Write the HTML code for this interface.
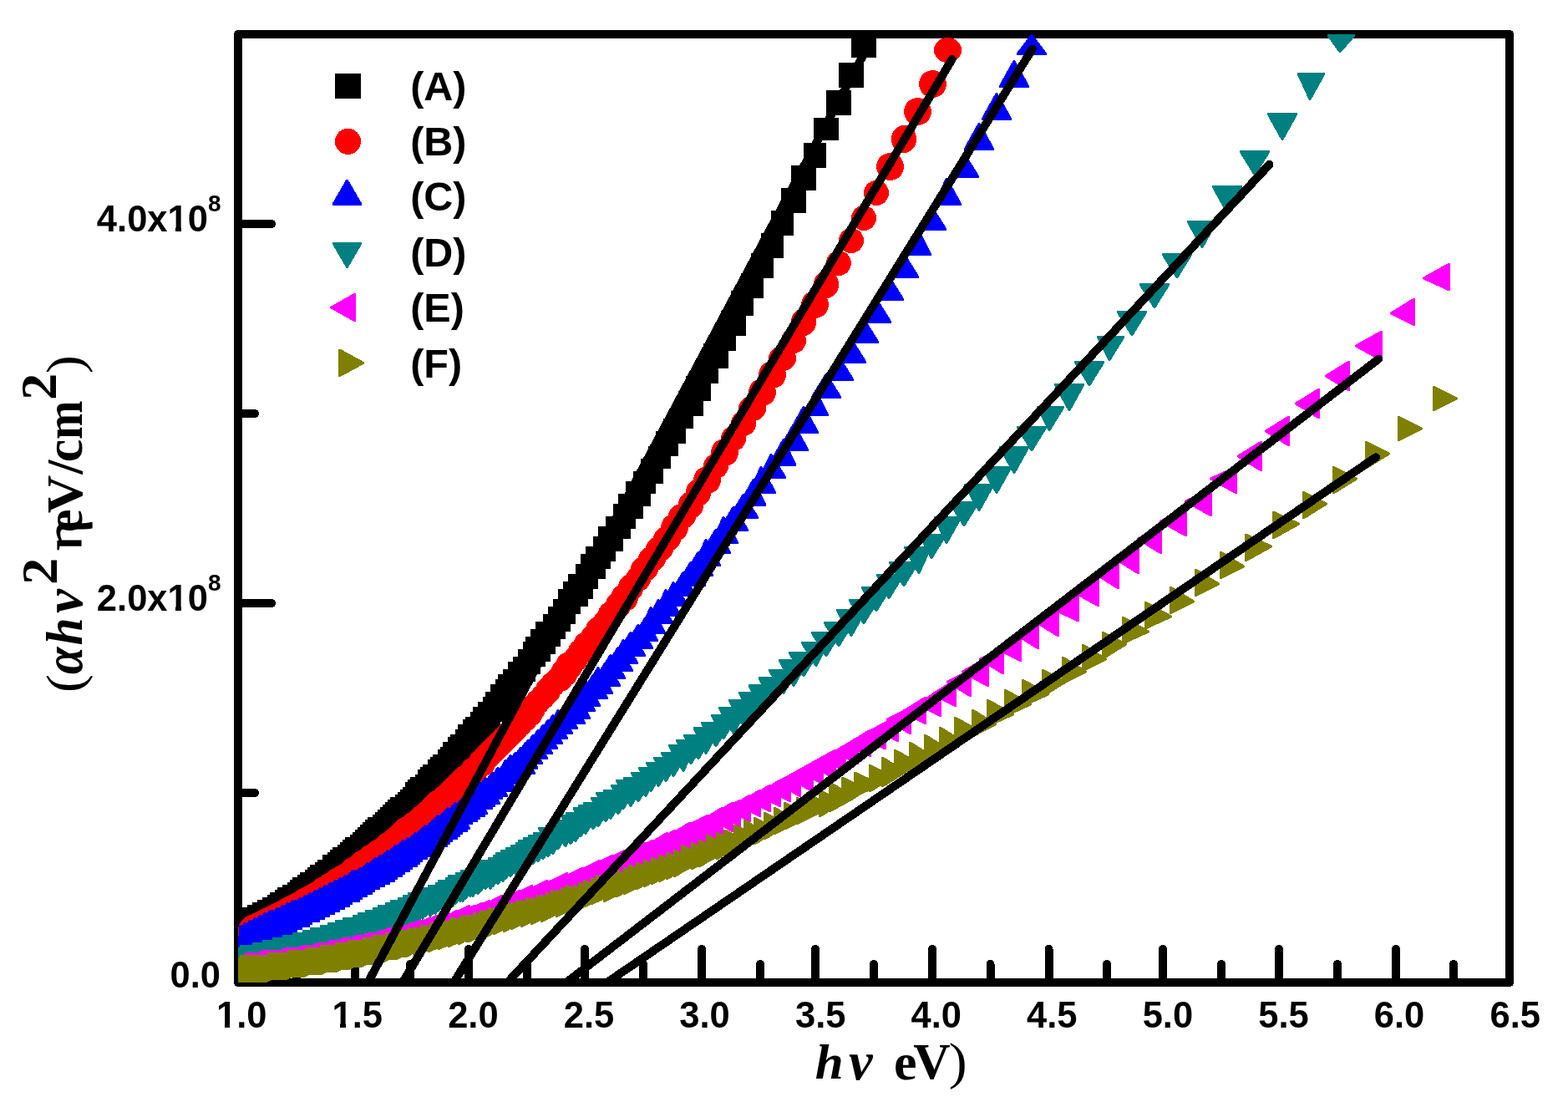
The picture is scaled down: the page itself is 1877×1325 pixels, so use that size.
<!DOCTYPE html>
<html lang="en"><head><meta charset="utf-8"><title>Tauc plot</title>
<style>html,body{margin:0;padding:0;background:#fff}body{width:1877px;height:1325px;overflow:hidden}svg{display:block}.t{font-family:"Liberation Sans",Arial,sans-serif;font-weight:bold;fill:#000}.s{font-family:"Liberation Serif","Times New Roman",serif;fill:#000}</style></head><body>
<svg width="1877" height="1325" viewBox="0 0 1877 1325">
<defs>
<clipPath id="cp"><rect x="285" y="41" width="1522" height="1135"/></clipPath>
</defs>
<rect x="0" y="0" width="1877" height="1325" fill="#fff"/>
<g id="axes" shape-rendering="crispEdges" stroke="#000" stroke-width="10" fill="none">
<rect x="285" y="41" width="1522" height="1135" stroke-linejoin="round"/>
</g>
<g id="ticks" stroke="#000" stroke-width="10" stroke-linecap="round" fill="none" shape-rendering="crispEdges">
<line x1="355" y1="1176" x2="355" y2="1154"/>
<line x1="425" y1="1176" x2="425" y2="1136"/>
<line x1="491" y1="1176" x2="491" y2="1154"/>
<line x1="561" y1="1176" x2="561" y2="1136"/>
<line x1="631" y1="1176" x2="631" y2="1154"/>
<line x1="700" y1="1176" x2="700" y2="1136"/>
<line x1="770" y1="1176" x2="770" y2="1154"/>
<line x1="840" y1="1176" x2="840" y2="1136"/>
<line x1="910" y1="1176" x2="910" y2="1154"/>
<line x1="976" y1="1176" x2="976" y2="1136"/>
<line x1="1046" y1="1176" x2="1046" y2="1154"/>
<line x1="1116" y1="1176" x2="1116" y2="1136"/>
<line x1="1185.5" y1="1176" x2="1185.5" y2="1154"/>
<line x1="1255.5" y1="1176" x2="1255.5" y2="1136"/>
<line x1="1325" y1="1176" x2="1325" y2="1154"/>
<line x1="1392" y1="1176" x2="1392" y2="1136"/>
<line x1="1462" y1="1176" x2="1462" y2="1154"/>
<line x1="1531" y1="1176" x2="1531" y2="1136"/>
<line x1="1601" y1="1176" x2="1601" y2="1154"/>
<line x1="1671" y1="1176" x2="1671" y2="1136"/>
<line x1="1740" y1="1176" x2="1740" y2="1154"/>
<line x1="285" y1="949.0" x2="305" y2="949.0"/>
<line x1="285" y1="722.0" x2="325" y2="722.0"/>
<line x1="285" y1="495.0" x2="305" y2="495.0"/>
<line x1="285" y1="268.0" x2="325" y2="268.0"/>
</g>
<g id="data" clip-path="url(#cp)" shape-rendering="crispEdges">
<g id="seriesA" fill="#000000">
<rect x="285" y="1095" width="14" height="30"/>
<rect x="285" y="1095" width="17" height="27"/>
<rect x="285" y="1092" width="17" height="30"/>
<rect x="285" y="1092" width="20" height="30"/>
<rect x="285" y="1092" width="20" height="30"/>
<rect x="285" y="1092" width="20" height="30"/>
<rect x="285" y="1092" width="23" height="30"/>
<rect x="285" y="1092" width="23" height="30"/>
<rect x="285" y="1092" width="26" height="27"/>
<rect x="285" y="1089" width="26" height="30"/>
<rect x="285" y="1089" width="26" height="30"/>
<rect x="285" y="1089" width="29" height="30"/>
<rect x="287" y="1089" width="27" height="30"/>
<rect x="287" y="1089" width="30" height="30"/>
<rect x="287" y="1089" width="30" height="27"/>
<rect x="290" y="1086" width="27" height="30"/>
<rect x="290" y="1086" width="30" height="30"/>
<rect x="293" y="1086" width="27" height="30"/>
<rect x="293" y="1086" width="30" height="30"/>
<rect x="296" y="1086" width="27" height="27"/>
<rect x="296" y="1083" width="30" height="30"/>
<rect x="296" y="1083" width="30" height="30"/>
<rect x="299" y="1083" width="27" height="30"/>
<rect x="299" y="1083" width="30" height="30"/>
<rect x="302" y="1080" width="27" height="30"/>
<rect x="302" y="1080" width="30" height="30"/>
<rect x="305" y="1080" width="27" height="30"/>
<rect x="305" y="1080" width="30" height="30"/>
<rect x="308" y="1080" width="27" height="27"/>
<rect x="308" y="1077" width="30" height="30"/>
<rect x="311" y="1077" width="27" height="30"/>
<rect x="311" y="1077" width="30" height="30"/>
<rect x="314" y="1074" width="27" height="30"/>
<rect x="314" y="1074" width="30" height="30"/>
<rect x="317" y="1074" width="27" height="30"/>
<rect x="317" y="1074" width="30" height="27"/>
<rect x="320" y="1071" width="27" height="30"/>
<rect x="320" y="1071" width="30" height="30"/>
<rect x="323" y="1071" width="27" height="30"/>
<rect x="323" y="1068" width="30" height="30"/>
<rect x="326" y="1068" width="27" height="30"/>
<rect x="326" y="1068" width="30" height="30"/>
<rect x="329" y="1065" width="27" height="30"/>
<rect x="329" y="1065" width="30" height="30"/>
<rect x="332" y="1065" width="27" height="30"/>
<rect x="332" y="1062" width="30" height="30"/>
<rect x="335" y="1062" width="27" height="30"/>
<rect x="335" y="1062" width="30" height="30"/>
<rect x="338" y="1059" width="30" height="30"/>
<rect x="341" y="1059" width="27" height="30"/>
<rect x="341" y="1059" width="30" height="27"/>
<rect x="344" y="1056" width="27" height="30"/>
<rect x="344" y="1056" width="30" height="30"/>
<rect x="347" y="1053" width="30" height="30"/>
<rect x="350" y="1053" width="27" height="30"/>
<rect x="350" y="1050" width="30" height="30"/>
<rect x="353" y="1050" width="27" height="30"/>
<rect x="353" y="1050" width="30" height="27"/>
<rect x="356" y="1047" width="30" height="30"/>
<rect x="359" y="1047" width="27" height="30"/>
<rect x="359" y="1044" width="30" height="30"/>
<rect x="362" y="1044" width="30" height="30"/>
<rect x="365" y="1041" width="27" height="30"/>
<rect x="365" y="1041" width="30" height="30"/>
<rect x="368" y="1038" width="30" height="30"/>
<rect x="371" y="1038" width="27" height="30"/>
<rect x="371" y="1035" width="30" height="30"/>
<rect x="374" y="1035" width="30" height="30"/>
<rect x="377" y="1032" width="27" height="30"/>
<rect x="377" y="1032" width="30" height="30"/>
<rect x="380" y="1029" width="30" height="30"/>
<rect x="383" y="1029" width="27" height="27"/>
<rect x="386" y="1026" width="27" height="30"/>
<rect x="386" y="1023" width="30" height="30"/>
<rect x="389" y="1023" width="30" height="30"/>
<rect x="392" y="1020" width="27" height="30"/>
<rect x="395" y="1020" width="27" height="30"/>
<rect x="395" y="1017" width="30" height="30"/>
<rect x="398" y="1014" width="30" height="30"/>
<rect x="401" y="1014" width="30" height="30"/>
<rect x="404" y="1011" width="27" height="30"/>
<rect x="407" y="1008" width="27" height="30"/>
<rect x="407" y="1008" width="30" height="30"/>
<rect x="410" y="1005" width="30" height="30"/>
<rect x="413" y="1002" width="30" height="30"/>
<rect x="416" y="1002" width="30" height="30"/>
<rect x="419" y="999" width="27" height="30"/>
<rect x="422" y="996" width="27" height="30"/>
<rect x="425" y="993" width="27" height="30"/>
<rect x="428" y="993" width="27" height="27"/>
<rect x="428" y="990" width="30" height="30"/>
<rect x="431" y="987" width="30" height="30"/>
<rect x="434" y="984" width="30" height="30"/>
<rect x="437" y="981" width="30" height="30"/>
<rect x="440" y="978" width="30" height="30"/>
<rect x="443" y="978" width="30" height="27"/>
<rect x="446" y="975" width="30" height="30"/>
<rect x="449" y="972" width="30" height="30"/>
<rect x="452" y="969" width="30" height="30"/>
<rect x="455" y="966" width="30" height="30"/>
<rect x="458" y="963" width="30" height="30"/>
<rect x="461" y="960" width="30" height="30"/>
<rect x="464" y="957" width="30" height="30"/>
<rect x="467" y="954" width="30" height="30"/>
<rect x="473" y="951" width="27" height="30"/>
<rect x="476" y="948" width="27" height="30"/>
<rect x="479" y="945" width="27" height="30"/>
<rect x="482" y="942" width="27" height="27"/>
<rect x="485" y="936" width="30" height="30"/>
<rect x="488" y="933" width="30" height="30"/>
<rect x="491" y="930" width="30" height="30"/>
<rect x="497" y="927" width="27" height="30"/>
<rect x="500" y="921" width="27" height="30"/>
<rect x="503" y="918" width="30" height="30"/>
<rect x="506" y="915" width="30" height="30"/>
<rect x="512" y="909" width="27" height="30"/>
<rect x="515" y="906" width="27" height="30"/>
<rect x="518" y="903" width="30" height="27"/>
<rect x="524" y="897" width="27" height="30"/>
<rect x="527" y="894" width="30" height="27"/>
<rect x="530" y="888" width="30" height="30"/>
<rect x="536" y="882" width="27" height="30"/>
<rect x="539" y="879" width="30" height="30"/>
<rect x="545" y="873" width="27" height="30"/>
<rect x="548" y="867" width="30" height="30"/>
<rect x="554" y="861" width="27" height="30"/>
<rect x="557" y="858" width="30" height="30"/>
<rect x="563" y="852" width="27" height="30"/>
<rect x="566" y="846" width="30" height="30"/>
<rect x="572" y="840" width="27" height="30"/>
<rect x="578" y="834" width="27" height="30"/>
<rect x="581" y="828" width="30" height="30"/>
<rect x="587" y="819" width="27" height="30"/>
<rect x="593" y="813" width="27" height="30"/>
<rect x="596" y="807" width="30" height="30"/>
<rect x="602" y="801" width="30" height="27"/>
<rect x="608" y="792" width="27" height="30"/>
<rect x="614" y="786" width="27" height="30"/>
<rect x="620" y="777" width="27" height="30"/>
<rect x="626" y="768" width="27" height="30"/>
<rect x="629" y="762" width="30" height="30"/>
<rect x="635" y="753" width="30" height="30"/>
<rect x="641" y="744" width="30" height="30"/>
<rect x="650" y="735" width="27" height="30"/>
<rect x="656" y="726" width="27" height="30"/>
<rect x="662" y="717" width="27" height="30"/>
<rect x="668" y="705" width="27" height="30"/>
<rect x="674" y="696" width="30" height="30"/>
<rect x="680" y="687" width="30" height="30"/>
<rect x="689" y="675" width="27" height="30"/>
<rect x="695" y="663" width="30" height="30"/>
<rect x="701" y="654" width="30" height="27"/>
<rect x="710" y="642" width="27" height="30"/>
<rect x="716" y="630" width="30" height="30"/>
<rect x="725" y="618" width="30" height="27"/>
<rect x="734" y="603" width="27" height="30"/>
<rect x="740" y="591" width="30" height="30"/>
<rect x="749" y="576" width="30" height="30"/>
<rect x="758" y="564" width="27" height="27"/>
<rect x="767" y="549" width="27" height="30"/>
<rect x="776" y="534" width="27" height="27"/>
<rect x="785" y="516" width="27" height="30"/>
<rect x="794" y="501" width="27" height="30"/>
<rect x="803" y="486" width="27" height="27"/>
<rect x="812" y="468" width="30" height="30"/>
<rect x="821" y="450" width="30" height="30"/>
<rect x="833" y="432" width="27" height="27"/>
<rect x="842" y="411" width="30" height="30"/>
<rect x="854" y="393" width="27" height="27"/>
<rect x="863" y="372" width="30" height="30"/>
<rect x="875" y="348" width="27" height="30"/>
<rect x="887" y="327" width="27" height="30"/>
<rect x="899" y="303" width="27" height="30"/>
<rect x="911" y="279" width="27" height="30"/>
<rect x="923" y="252" width="27" height="30"/>
<rect x="935" y="225" width="30" height="30"/>
<rect x="947" y="198" width="30" height="30"/>
<rect x="962" y="171" width="27" height="30"/>
<rect x="974" y="141" width="30" height="27"/>
<rect x="989" y="108" width="30" height="30"/>
<rect x="1004" y="75" width="30" height="30"/>
<rect x="1019" y="41" width="30" height="28"/>
</g>
<g id="seriesB" fill="#ff0000">
<ellipse cx="293.5" cy="1119" rx="8.5" ry="15"/>
<ellipse cx="293.5" cy="1119" rx="8.5" ry="15"/>
<ellipse cx="295" cy="1117.5" rx="10" ry="16.5"/>
<ellipse cx="295" cy="1117.5" rx="10" ry="16.5"/>
<ellipse cx="295" cy="1117.5" rx="10" ry="16.5"/>
<ellipse cx="296.5" cy="1117.5" rx="11.5" ry="16.5"/>
<ellipse cx="296.5" cy="1116" rx="11.5" ry="15"/>
<ellipse cx="298" cy="1116" rx="13" ry="15"/>
<ellipse cx="298" cy="1114.5" rx="13" ry="16.5"/>
<ellipse cx="298" cy="1114.5" rx="13" ry="16.5"/>
<ellipse cx="299.5" cy="1114.5" rx="14.5" ry="16.5"/>
<ellipse cx="299.5" cy="1113" rx="14.5" ry="15"/>
<ellipse cx="301" cy="1113" rx="16" ry="15"/>
<ellipse cx="302" cy="1113" rx="15" ry="15"/>
<ellipse cx="302" cy="1111.5" rx="15" ry="16.5"/>
<ellipse cx="303.5" cy="1111.5" rx="16.5" ry="16.5"/>
<ellipse cx="305" cy="1110" rx="15" ry="15"/>
<ellipse cx="306.5" cy="1110" rx="16.5" ry="15"/>
<ellipse cx="308" cy="1110" rx="15" ry="15"/>
<ellipse cx="309.5" cy="1108.5" rx="16.5" ry="16.5"/>
<ellipse cx="311" cy="1108.5" rx="15" ry="16.5"/>
<ellipse cx="311" cy="1107" rx="15" ry="15"/>
<ellipse cx="312.5" cy="1107" rx="16.5" ry="15"/>
<ellipse cx="314" cy="1107" rx="15" ry="15"/>
<ellipse cx="315.5" cy="1105.5" rx="16.5" ry="16.5"/>
<ellipse cx="317" cy="1105.5" rx="15" ry="16.5"/>
<ellipse cx="318.5" cy="1104" rx="16.5" ry="15"/>
<ellipse cx="320" cy="1104" rx="15" ry="15"/>
<ellipse cx="321.5" cy="1102.5" rx="16.5" ry="16.5"/>
<ellipse cx="323" cy="1102.5" rx="15" ry="16.5"/>
<ellipse cx="324.5" cy="1101" rx="16.5" ry="15"/>
<ellipse cx="326" cy="1101" rx="15" ry="15"/>
<ellipse cx="327.5" cy="1099.5" rx="16.5" ry="16.5"/>
<ellipse cx="329" cy="1099.5" rx="15" ry="16.5"/>
<ellipse cx="330.5" cy="1098" rx="16.5" ry="15"/>
<ellipse cx="332" cy="1098" rx="15" ry="15"/>
<ellipse cx="333.5" cy="1096.5" rx="16.5" ry="16.5"/>
<ellipse cx="335" cy="1096.5" rx="15" ry="16.5"/>
<ellipse cx="336.5" cy="1095" rx="16.5" ry="15"/>
<ellipse cx="338" cy="1095" rx="15" ry="15"/>
<ellipse cx="339.5" cy="1093.5" rx="16.5" ry="16.5"/>
<ellipse cx="341" cy="1093.5" rx="15" ry="16.5"/>
<ellipse cx="342.5" cy="1092" rx="16.5" ry="15"/>
<ellipse cx="344" cy="1090.5" rx="15" ry="16.5"/>
<ellipse cx="345.5" cy="1090.5" rx="16.5" ry="16.5"/>
<ellipse cx="347" cy="1089" rx="15" ry="15"/>
<ellipse cx="348.5" cy="1089" rx="16.5" ry="15"/>
<ellipse cx="350" cy="1087.5" rx="15" ry="16.5"/>
<ellipse cx="353" cy="1087.5" rx="15" ry="16.5"/>
<ellipse cx="354.5" cy="1086" rx="16.5" ry="15"/>
<ellipse cx="356" cy="1084.5" rx="15" ry="16.5"/>
<ellipse cx="357.5" cy="1084.5" rx="16.5" ry="16.5"/>
<ellipse cx="359" cy="1083" rx="15" ry="15"/>
<ellipse cx="362" cy="1081.5" rx="15" ry="16.5"/>
<ellipse cx="363.5" cy="1081.5" rx="16.5" ry="16.5"/>
<ellipse cx="365" cy="1080" rx="15" ry="15"/>
<ellipse cx="366.5" cy="1078.5" rx="16.5" ry="16.5"/>
<ellipse cx="368" cy="1077" rx="15" ry="15"/>
<ellipse cx="371" cy="1077" rx="15" ry="15"/>
<ellipse cx="372.5" cy="1075.5" rx="16.5" ry="16.5"/>
<ellipse cx="374" cy="1074" rx="15" ry="15"/>
<ellipse cx="377" cy="1072.5" rx="15" ry="16.5"/>
<ellipse cx="378.5" cy="1072.5" rx="16.5" ry="16.5"/>
<ellipse cx="380" cy="1071" rx="15" ry="15"/>
<ellipse cx="383" cy="1069.5" rx="15" ry="16.5"/>
<ellipse cx="384.5" cy="1068" rx="16.5" ry="15"/>
<ellipse cx="386" cy="1066.5" rx="15" ry="16.5"/>
<ellipse cx="389" cy="1065" rx="15" ry="15"/>
<ellipse cx="390.5" cy="1065" rx="16.5" ry="15"/>
<ellipse cx="392" cy="1063.5" rx="15" ry="16.5"/>
<ellipse cx="395" cy="1062" rx="15" ry="15"/>
<ellipse cx="396.5" cy="1060.5" rx="16.5" ry="16.5"/>
<ellipse cx="399.5" cy="1059" rx="16.5" ry="15"/>
<ellipse cx="401" cy="1057.5" rx="15" ry="16.5"/>
<ellipse cx="404" cy="1056" rx="15" ry="15"/>
<ellipse cx="405.5" cy="1054.5" rx="16.5" ry="16.5"/>
<ellipse cx="408.5" cy="1053" rx="16.5" ry="15"/>
<ellipse cx="410" cy="1051.5" rx="15" ry="16.5"/>
<ellipse cx="413" cy="1050" rx="15" ry="15"/>
<ellipse cx="416" cy="1048.5" rx="15" ry="16.5"/>
<ellipse cx="417.5" cy="1047" rx="16.5" ry="15"/>
<ellipse cx="420.5" cy="1045.5" rx="16.5" ry="16.5"/>
<ellipse cx="422" cy="1042.5" rx="15" ry="16.5"/>
<ellipse cx="425" cy="1041" rx="15" ry="15"/>
<ellipse cx="428" cy="1039.5" rx="15" ry="16.5"/>
<ellipse cx="431" cy="1038" rx="15" ry="15"/>
<ellipse cx="432.5" cy="1036.5" rx="16.5" ry="16.5"/>
<ellipse cx="435.5" cy="1033.5" rx="16.5" ry="16.5"/>
<ellipse cx="438.5" cy="1032" rx="16.5" ry="15"/>
<ellipse cx="440" cy="1030.5" rx="15" ry="16.5"/>
<ellipse cx="443" cy="1027.5" rx="15" ry="16.5"/>
<ellipse cx="446" cy="1026" rx="15" ry="15"/>
<ellipse cx="449" cy="1024.5" rx="15" ry="16.5"/>
<ellipse cx="452" cy="1021.5" rx="15" ry="16.5"/>
<ellipse cx="455" cy="1020" rx="15" ry="15"/>
<ellipse cx="458" cy="1017" rx="15" ry="15"/>
<ellipse cx="461" cy="1015.5" rx="15" ry="16.5"/>
<ellipse cx="464" cy="1012.5" rx="15" ry="16.5"/>
<ellipse cx="467" cy="1011" rx="15" ry="15"/>
<ellipse cx="470" cy="1008" rx="15" ry="15"/>
<ellipse cx="473" cy="1005" rx="15" ry="15"/>
<ellipse cx="476" cy="1003.5" rx="15" ry="16.5"/>
<ellipse cx="479" cy="1000.5" rx="15" ry="16.5"/>
<ellipse cx="482" cy="997.5" rx="15" ry="16.5"/>
<ellipse cx="485" cy="994.5" rx="15" ry="16.5"/>
<ellipse cx="489.5" cy="993" rx="16.5" ry="15"/>
<ellipse cx="492.5" cy="990" rx="16.5" ry="15"/>
<ellipse cx="495.5" cy="987" rx="16.5" ry="15"/>
<ellipse cx="500" cy="984" rx="15" ry="15"/>
<ellipse cx="503" cy="981" rx="15" ry="15"/>
<ellipse cx="506" cy="978" rx="15" ry="15"/>
<ellipse cx="510.5" cy="975" rx="16.5" ry="15"/>
<ellipse cx="513.5" cy="972" rx="16.5" ry="15"/>
<ellipse cx="518" cy="967.5" rx="15" ry="16.5"/>
<ellipse cx="521" cy="964.5" rx="15" ry="16.5"/>
<ellipse cx="525.5" cy="961.5" rx="16.5" ry="16.5"/>
<ellipse cx="530" cy="958.5" rx="15" ry="16.5"/>
<ellipse cx="533" cy="954" rx="15" ry="15"/>
<ellipse cx="537.5" cy="951" rx="16.5" ry="15"/>
<ellipse cx="542" cy="946.5" rx="15" ry="16.5"/>
<ellipse cx="545" cy="943.5" rx="15" ry="16.5"/>
<ellipse cx="549.5" cy="939" rx="16.5" ry="15"/>
<ellipse cx="554" cy="934.5" rx="15" ry="16.5"/>
<ellipse cx="558.5" cy="931.5" rx="16.5" ry="16.5"/>
<ellipse cx="563" cy="927" rx="15" ry="15"/>
<ellipse cx="567.5" cy="922.5" rx="16.5" ry="16.5"/>
<ellipse cx="572" cy="918" rx="15" ry="15"/>
<ellipse cx="576.5" cy="913.5" rx="16.5" ry="16.5"/>
<ellipse cx="581" cy="907.5" rx="15" ry="16.5"/>
<ellipse cx="585.5" cy="903" rx="16.5" ry="15"/>
<ellipse cx="590" cy="898.5" rx="15" ry="16.5"/>
<ellipse cx="596" cy="892.5" rx="15" ry="16.5"/>
<ellipse cx="600.5" cy="888" rx="16.5" ry="15"/>
<ellipse cx="606.5" cy="882" rx="16.5" ry="15"/>
<ellipse cx="611" cy="877.5" rx="15" ry="16.5"/>
<ellipse cx="617" cy="871.5" rx="15" ry="16.5"/>
<ellipse cx="621.5" cy="865.5" rx="16.5" ry="16.5"/>
<ellipse cx="627.5" cy="859.5" rx="16.5" ry="16.5"/>
<ellipse cx="633.5" cy="853.5" rx="16.5" ry="16.5"/>
<ellipse cx="638" cy="847.5" rx="15" ry="16.5"/>
<ellipse cx="644" cy="840" rx="15" ry="15"/>
<ellipse cx="650" cy="834" rx="15" ry="15"/>
<ellipse cx="656" cy="826.5" rx="15" ry="16.5"/>
<ellipse cx="662" cy="819" rx="15" ry="15"/>
<ellipse cx="669.5" cy="813" rx="16.5" ry="15"/>
<ellipse cx="675.5" cy="805.5" rx="16.5" ry="16.5"/>
<ellipse cx="681.5" cy="796.5" rx="16.5" ry="16.5"/>
<ellipse cx="689" cy="789" rx="15" ry="15"/>
<ellipse cx="695" cy="780" rx="15" ry="15"/>
<ellipse cx="702.5" cy="772.5" rx="16.5" ry="16.5"/>
<ellipse cx="710" cy="763.5" rx="15" ry="16.5"/>
<ellipse cx="716" cy="754.5" rx="15" ry="16.5"/>
<ellipse cx="725" cy="745.5" rx="15" ry="16.5"/>
<ellipse cx="731" cy="735" rx="15" ry="15"/>
<ellipse cx="740" cy="724.5" rx="15" ry="16.5"/>
<ellipse cx="747.5" cy="715.5" rx="16.5" ry="16.5"/>
<ellipse cx="755" cy="703.5" rx="15" ry="16.5"/>
<ellipse cx="764" cy="693" rx="15" ry="15"/>
<ellipse cx="771.5" cy="681" rx="16.5" ry="15"/>
<ellipse cx="780.5" cy="669" rx="16.5" ry="15"/>
<ellipse cx="789.5" cy="657" rx="16.5" ry="15"/>
<ellipse cx="798.5" cy="645" rx="16.5" ry="15"/>
<ellipse cx="807.5" cy="631.5" rx="16.5" ry="16.5"/>
<ellipse cx="816.5" cy="618" rx="16.5" ry="15"/>
<ellipse cx="827" cy="604.5" rx="15" ry="16.5"/>
<ellipse cx="836" cy="589.5" rx="15" ry="16.5"/>
<ellipse cx="846.5" cy="574.5" rx="16.5" ry="16.5"/>
<ellipse cx="857" cy="558" rx="15" ry="15"/>
<ellipse cx="867.5" cy="541.5" rx="16.5" ry="16.5"/>
<ellipse cx="878" cy="525" rx="15" ry="15"/>
<ellipse cx="890" cy="507" rx="15" ry="15"/>
<ellipse cx="900.5" cy="489" rx="16.5" ry="15"/>
<ellipse cx="912.5" cy="469.5" rx="16.5" ry="16.5"/>
<ellipse cx="924.5" cy="448.5" rx="16.5" ry="16.5"/>
<ellipse cx="936.5" cy="429" rx="16.5" ry="15"/>
<ellipse cx="950" cy="408" rx="15" ry="15"/>
<ellipse cx="962" cy="385.5" rx="15" ry="16.5"/>
<ellipse cx="975.5" cy="364.5" rx="16.5" ry="16.5"/>
<ellipse cx="989" cy="340.5" rx="15" ry="16.5"/>
<ellipse cx="1004" cy="315" rx="15" ry="15"/>
<ellipse cx="1019" cy="288" rx="15" ry="15"/>
<ellipse cx="1034" cy="261" rx="15" ry="15"/>
<ellipse cx="1049" cy="231" rx="15" ry="15"/>
<ellipse cx="1065.5" cy="199.5" rx="16.5" ry="16.5"/>
<ellipse cx="1082" cy="166.5" rx="15" ry="16.5"/>
<ellipse cx="1098.5" cy="133.5" rx="16.5" ry="16.5"/>
<ellipse cx="1116.5" cy="100.5" rx="16.5" ry="16.5"/>
<ellipse cx="1134.5" cy="60" rx="16.5" ry="15"/>
</g>
<g id="seriesC" fill="#0000ff">
<path d="M286,1107h2L302,1137.5v2.5H285v-2.5Z"/>
<path d="M286,1107h2L305,1134.5v2.5H285v-2.5Z"/>
<path d="M286,1107h2L305,1134.5v2.5H285v-2.5Z"/>
<path d="M289,1107h2L308,1134.5v2.5H285v-2.5Z"/>
<path d="M289,1107h2L308,1134.5v2.5H285v-2.5Z"/>
<path d="M292,1104h2L308,1134.5v2.5H285v-2.5Z"/>
<path d="M292,1104h2L311,1134.5v2.5H285v-2.5Z"/>
<path d="M292,1104h2L311,1131.5v2.5H285v-2.5Z"/>
<path d="M295,1104h2L314,1131.5v2.5H285v-2.5Z"/>
<path d="M295,1104h2L314,1131.5v2.5H285v-2.5Z"/>
<path d="M298,1104h2L314,1131.5v2.5H285v-2.5Z"/>
<path d="M298,1101h2L317,1131.5v2.5H285v-2.5Z"/>
<path d="M298,1101h2L317,1128.5v2.5H285v-2.5Z"/>
<path d="M301,1101h2L320,1128.5v2.5H285v-2.5Z"/>
<path d="M301,1101h2L320,1128.5v2.5H285v-2.5Z"/>
<path d="M304,1101h2L320,1128.5v2.5H287v-2.5Z"/>
<path d="M304,1098h2L323,1128.5v2.5H287v-2.5Z"/>
<path d="M304,1098h2L323,1125.5v2.5H290v-2.5Z"/>
<path d="M307,1098h2L326,1125.5v2.5H290v-2.5Z"/>
<path d="M307,1098h2L326,1125.5v2.5H290v-2.5Z"/>
<path d="M310,1098h2L329,1125.5v2.5H293v-2.5Z"/>
<path d="M310,1095h2L329,1125.5v2.5H293v-2.5Z"/>
<path d="M313,1095h2L329,1122.5v2.5H296v-2.5Z"/>
<path d="M313,1095h2L332,1122.5v2.5H296v-2.5Z"/>
<path d="M316,1095h2L332,1122.5v2.5H299v-2.5Z"/>
<path d="M316,1095h2L335,1122.5v2.5H299v-2.5Z"/>
<path d="M316,1092h2L335,1122.5v2.5H302v-2.5Z"/>
<path d="M319,1092h2L338,1119.5v2.5H302v-2.5Z"/>
<path d="M319,1092h2L338,1119.5v2.5H305v-2.5Z"/>
<path d="M322,1092h2L341,1119.5v2.5H305v-2.5Z"/>
<path d="M322,1089h2L341,1119.5v2.5H308v-2.5Z"/>
<path d="M325,1089h2L344,1119.5v2.5H308v-2.5Z"/>
<path d="M325,1089h2L344,1116.5v2.5H308v-2.5Z"/>
<path d="M328,1089h2L347,1116.5v2.5H311v-2.5Z"/>
<path d="M328,1089h2L347,1116.5v2.5H311v-2.5Z"/>
<path d="M331,1086h2L350,1116.5v2.5H314v-2.5Z"/>
<path d="M331,1086h2L350,1113.5v2.5H314v-2.5Z"/>
<path d="M334,1086h2L353,1113.5v2.5H317v-2.5Z"/>
<path d="M334,1086h2L353,1113.5v2.5H320v-2.5Z"/>
<path d="M337,1083h2L356,1113.5v2.5H320v-2.5Z"/>
<path d="M337,1083h2L356,1113.5v2.5H323v-2.5Z"/>
<path d="M340,1083h2L359,1110.5v2.5H323v-2.5Z"/>
<path d="M340,1083h2L359,1110.5v2.5H326v-2.5Z"/>
<path d="M343,1080h2L362,1110.5v2.5H326v-2.5Z"/>
<path d="M346,1080h2L362,1110.5v2.5H329v-2.5Z"/>
<path d="M346,1080h2L365,1107.5v2.5H329v-2.5Z"/>
<path d="M349,1080h2L368,1107.5v2.5H332v-2.5Z"/>
<path d="M349,1077h2L368,1107.5v2.5H332v-2.5Z"/>
<path d="M352,1077h2L371,1107.5v2.5H335v-2.5Z"/>
<path d="M352,1077h2L371,1104.5v2.5H338v-2.5Z"/>
<path d="M355,1077h2L374,1104.5v2.5H338v-2.5Z"/>
<path d="M358,1074h2L374,1104.5v2.5H341v-2.5Z"/>
<path d="M358,1074h2L377,1101.5v2.5H341v-2.5Z"/>
<path d="M361,1074h2L380,1101.5v2.5H344v-2.5Z"/>
<path d="M361,1074h2L380,1101.5v2.5H347v-2.5Z"/>
<path d="M364,1071h2L383,1101.5v2.5H347v-2.5Z"/>
<path d="M367,1071h2L383,1098.5v2.5H350v-2.5Z"/>
<path d="M367,1071h2L386,1098.5v2.5H350v-2.5Z"/>
<path d="M370,1068h2L389,1098.5v2.5H353v-2.5Z"/>
<path d="M370,1068h2L389,1095.5v2.5H356v-2.5Z"/>
<path d="M373,1068h2L392,1095.5v2.5H356v-2.5Z"/>
<path d="M376,1065h2L395,1095.5v2.5H359v-2.5Z"/>
<path d="M376,1065h2L395,1092.5v2.5H362v-2.5Z"/>
<path d="M379,1065h2L398,1092.5v2.5H362v-2.5Z"/>
<path d="M382,1062h2L401,1092.5v2.5H365v-2.5Z"/>
<path d="M382,1062h2L401,1089.5v2.5H368v-2.5Z"/>
<path d="M385,1062h2L404,1089.5v2.5H368v-2.5Z"/>
<path d="M388,1059h2L407,1089.5v2.5H371v-2.5Z"/>
<path d="M391,1059h2L407,1086.5v2.5H374v-2.5Z"/>
<path d="M391,1059h2L410,1086.5v2.5H374v-2.5Z"/>
<path d="M394,1056h2L413,1086.5v2.5H377v-2.5Z"/>
<path d="M397,1056h2L416,1083.5v2.5H380v-2.5Z"/>
<path d="M397,1056h2L416,1083.5v2.5H383v-2.5Z"/>
<path d="M400,1053h2L419,1083.5v2.5H383v-2.5Z"/>
<path d="M403,1053h2L422,1080.5v2.5H386v-2.5Z"/>
<path d="M406,1050h2L422,1080.5v2.5H389v-2.5Z"/>
<path d="M406,1050h2L425,1077.5v2.5H392v-2.5Z"/>
<path d="M409,1050h2L428,1077.5v2.5H392v-2.5Z"/>
<path d="M412,1047h2L431,1077.5v2.5H395v-2.5Z"/>
<path d="M415,1047h2L434,1074.5v2.5H398v-2.5Z"/>
<path d="M418,1044h2L434,1074.5v2.5H401v-2.5Z"/>
<path d="M418,1044h2L437,1071.5v2.5H404v-2.5Z"/>
<path d="M421,1041h2L440,1071.5v2.5H404v-2.5Z"/>
<path d="M424,1041h2L443,1068.5v2.5H407v-2.5Z"/>
<path d="M427,1041h2L446,1068.5v2.5H410v-2.5Z"/>
<path d="M430,1038h2L449,1065.5v2.5H413v-2.5Z"/>
<path d="M433,1038h2L449,1065.5v2.5H416v-2.5Z"/>
<path d="M436,1035h2L452,1062.5v2.5H419v-2.5Z"/>
<path d="M436,1035h2L455,1062.5v2.5H422v-2.5Z"/>
<path d="M439,1032h2L458,1059.5v2.5H422v-2.5Z"/>
<path d="M442,1032h2L461,1059.5v2.5H425v-2.5Z"/>
<path d="M445,1029h2L464,1056.5v2.5H428v-2.5Z"/>
<path d="M448,1026h2L467,1056.5v2.5H431v-2.5Z"/>
<path d="M451,1026h2L470,1053.5v2.5H434v-2.5Z"/>
<path d="M454,1023h2L473,1053.5v2.5H437v-2.5Z"/>
<path d="M457,1023h2L476,1050.5v2.5H440v-2.5Z"/>
<path d="M460,1020h2L479,1047.5v2.5H443v-2.5Z"/>
<path d="M463,1017h2L482,1047.5v2.5H446v-2.5Z"/>
<path d="M466,1017h2L485,1044.5v2.5H449v-2.5Z"/>
<path d="M469,1014h2L488,1041.5v2.5H452v-2.5Z"/>
<path d="M472,1011h2L491,1041.5v2.5H455v-2.5Z"/>
<path d="M475,1011h2L494,1038.5v2.5H458v-2.5Z"/>
<path d="M478,1008h2L497,1035.5v2.5H461v-2.5Z"/>
<path d="M481,1005h2L500,1035.5v2.5H464v-2.5Z"/>
<path d="M484,1005h2L503,1032.5v2.5H467v-2.5Z"/>
<path d="M487,1002h2L506,1029.5v2.5H473v-2.5Z"/>
<path d="M493,999h2L509,1026.5v2.5H476v-2.5Z"/>
<path d="M496,996h2L512,1026.5v2.5H479v-2.5Z"/>
<path d="M499,996h2L518,1023.5v2.5H482v-2.5Z"/>
<path d="M502,993h2L521,1020.5v2.5H485v-2.5Z"/>
<path d="M505,990h2L524,1017.5v2.5H488v-2.5Z"/>
<path d="M508,987h2L527,1014.5v2.5H494v-2.5Z"/>
<path d="M514,984h2L530,1011.5v2.5H497v-2.5Z"/>
<path d="M517,981h2L536,1011.5v2.5H500v-2.5Z"/>
<path d="M520,978h2L539,1008.5v2.5H503v-2.5Z"/>
<path d="M523,975h2L542,1005.5v2.5H509v-2.5Z"/>
<path d="M529,972h2L548,1002.5v2.5H512v-2.5Z"/>
<path d="M532,969h2L551,999.5v2.5H515v-2.5Z"/>
<path d="M535,966h2L554,996.5v2.5H521v-2.5Z"/>
<path d="M541,963h2L560,993.5v2.5H524v-2.5Z"/>
<path d="M544,960h2L563,990.5v2.5H527v-2.5Z"/>
<path d="M550,957h2L566,984.5v2.5H533v-2.5Z"/>
<path d="M553,954h2L572,981.5v2.5H536v-2.5Z"/>
<path d="M556,951h2L575,978.5v2.5H542v-2.5Z"/>
<path d="M562,948h2L581,975.5v2.5H545v-2.5Z"/>
<path d="M565,942h2L584,972.5v2.5H551v-2.5Z"/>
<path d="M571,939h2L590,966.5v2.5H554v-2.5Z"/>
<path d="M574,936h2L593,963.5v2.5H560v-2.5Z"/>
<path d="M580,930h2L599,960.5v2.5H563v-2.5Z"/>
<path d="M586,927h2L602,954.5v2.5H569v-2.5Z"/>
<path d="M589,924h2L608,951.5v2.5H572v-2.5Z"/>
<path d="M595,918h2L614,945.5v2.5H578v-2.5Z"/>
<path d="M601,915h2L617,942.5v2.5H584v-2.5Z"/>
<path d="M604,909h2L623,936.5v2.5H590v-2.5Z"/>
<path d="M610,903h2L629,933.5v2.5H593v-2.5Z"/>
<path d="M616,900h2L635,927.5v2.5H599v-2.5Z"/>
<path d="M622,894h2L641,924.5v2.5H605v-2.5Z"/>
<path d="M628,888h2L644,918.5v2.5H611v-2.5Z"/>
<path d="M631,885h2L650,912.5v2.5H617v-2.5Z"/>
<path d="M637,879h2L656,906.5v2.5H620v-2.5Z"/>
<path d="M643,873h2L662,900.5v2.5H626v-2.5Z"/>
<path d="M649,867h2L668,894.5v2.5H632v-2.5Z"/>
<path d="M655,861h2L674,888.5v2.5H638v-2.5Z"/>
<path d="M661,855h2L680,882.5v2.5H644v-2.5Z"/>
<path d="M667,849h2L686,876.5v2.5H653v-2.5Z"/>
<path d="M676,843h2L692,870.5v2.5H659v-2.5Z"/>
<path d="M682,837h2L701,864.5v2.5H665v-2.5Z"/>
<path d="M688,828h2L707,858.5v2.5H671v-2.5Z"/>
<path d="M694,822h2L713,849.5v2.5H677v-2.5Z"/>
<path d="M700,813h2L719,843.5v2.5H686v-2.5Z"/>
<path d="M709,807h2L728,834.5v2.5H692v-2.5Z"/>
<path d="M715,798h2L734,828.5v2.5H698v-2.5Z"/>
<path d="M724,792h2L743,819.5v2.5H707v-2.5Z"/>
<path d="M730,783h2L749,810.5v2.5H713v-2.5Z"/>
<path d="M739,774h2L758,801.5v2.5H722v-2.5Z"/>
<path d="M745,765h2L764,792.5v2.5H731v-2.5Z"/>
<path d="M754,756h2L773,783.5v2.5H737v-2.5Z"/>
<path d="M763,747h2L782,774.5v2.5H746v-2.5Z"/>
<path d="M772,738h2L788,765.5v2.5H755v-2.5Z"/>
<path d="M778,726h2L797,756.5v2.5H764v-2.5Z"/>
<path d="M787,717h2L806,744.5v2.5H773v-2.5Z"/>
<path d="M796,705h2L815,735.5v2.5H782v-2.5Z"/>
<path d="M805,696h2L824,723.5v2.5H791v-2.5Z"/>
<path d="M817,684h2L833,711.5v2.5H800v-2.5Z"/>
<path d="M826,672h2L845,699.5v2.5H809v-2.5Z"/>
<path d="M835,660h2L854,687.5v2.5H818v-2.5Z"/>
<path d="M844,645h2L863,675.5v2.5H830v-2.5Z"/>
<path d="M856,633h2L875,660.5v2.5H839v-2.5Z"/>
<path d="M865,618h2L884,648.5v2.5H851v-2.5Z"/>
<path d="M877,606h2L896,633.5v2.5H860v-2.5Z"/>
<path d="M889,591h2L908,618.5v2.5H872v-2.5Z"/>
<path d="M901,573h2L917,603.5v2.5H884v-2.5Z"/>
<path d="M910,558h2L929,588.5v2.5H896v-2.5Z"/>
<path d="M922,543h2L941,570.5v2.5H908v-2.5Z"/>
<path d="M937,525h2L953,555.5v2.5H920v-2.5Z"/>
<path d="M949,507h2L968,537.5v2.5H932v-2.5Z"/>
<path d="M961,486h2L980,516.5v2.5H944v-2.5Z"/>
<path d="M976,468h2L992,495.5v2.5H959v-2.5Z"/>
<path d="M988,447h2L1007,474.5v2.5H971v-2.5Z"/>
<path d="M1003,426h2L1022,453.5v2.5H986v-2.5Z"/>
<path d="M1018,405h2L1037,432.5v2.5H1001v-2.5Z"/>
<path d="M1033,381h2L1052,408.5v2.5H1016v-2.5Z"/>
<path d="M1048,357h2L1067,384.5v2.5H1031v-2.5Z"/>
<path d="M1063,330h2L1082,357.5v2.5H1049v-2.5Z"/>
<path d="M1081,303h2L1100,330.5v2.5H1064v-2.5Z"/>
<path d="M1099,276h2L1115,303.5v2.5H1082v-2.5Z"/>
<path d="M1114,246h2L1133,273.5v2.5H1100v-2.5Z"/>
<path d="M1132,213h2L1151,243.5v2.5H1118v-2.5Z"/>
<path d="M1153,183h2L1172,210.5v2.5H1136v-2.5Z"/>
<path d="M1171,147h2L1190,177.5v2.5H1154v-2.5Z"/>
<path d="M1192,111h2L1211,141.5v2.5H1175v-2.5Z"/>
<path d="M1213,72h2L1232,102.5v2.5H1196v-2.5Z"/>
<path d="M1234,41h2L1253,63.5v2.5H1217v-2.5Z"/>
</g>
<g id="seriesD" fill="#008080">
<path d="M286,1167h2L302,1139.5v-2.5H285v2.5Z"/>
<path d="M286,1167h2L305,1139.5v-2.5H285v2.5Z"/>
<path d="M286,1167h2L305,1139.5v-2.5H285v2.5Z"/>
<path d="M289,1167h2L308,1139.5v-2.5H285v2.5Z"/>
<path d="M289,1167h2L308,1139.5v-2.5H285v2.5Z"/>
<path d="M292,1167h2L308,1136.5v-2.5H285v2.5Z"/>
<path d="M292,1167h2L311,1136.5v-2.5H285v2.5Z"/>
<path d="M292,1167h2L311,1136.5v-2.5H285v2.5Z"/>
<path d="M295,1167h2L314,1136.5v-2.5H285v2.5Z"/>
<path d="M295,1164h2L314,1136.5v-2.5H285v2.5Z"/>
<path d="M298,1164h2L314,1136.5v-2.5H285v2.5Z"/>
<path d="M298,1164h2L317,1136.5v-2.5H285v2.5Z"/>
<path d="M298,1164h2L317,1136.5v-2.5H285v2.5Z"/>
<path d="M301,1164h2L320,1136.5v-2.5H285v2.5Z"/>
<path d="M301,1164h2L320,1136.5v-2.5H285v2.5Z"/>
<path d="M304,1164h2L320,1136.5v-2.5H287v2.5Z"/>
<path d="M304,1164h2L323,1133.5v-2.5H287v2.5Z"/>
<path d="M304,1164h2L323,1133.5v-2.5H290v2.5Z"/>
<path d="M307,1164h2L326,1133.5v-2.5H290v2.5Z"/>
<path d="M307,1164h2L326,1133.5v-2.5H290v2.5Z"/>
<path d="M310,1161h2L329,1133.5v-2.5H293v2.5Z"/>
<path d="M310,1161h2L329,1133.5v-2.5H293v2.5Z"/>
<path d="M313,1161h2L329,1133.5v-2.5H296v2.5Z"/>
<path d="M313,1161h2L332,1133.5v-2.5H296v2.5Z"/>
<path d="M316,1161h2L332,1133.5v-2.5H299v2.5Z"/>
<path d="M316,1161h2L335,1133.5v-2.5H299v2.5Z"/>
<path d="M316,1161h2L335,1130.5v-2.5H302v2.5Z"/>
<path d="M319,1161h2L338,1130.5v-2.5H302v2.5Z"/>
<path d="M319,1161h2L338,1130.5v-2.5H305v2.5Z"/>
<path d="M322,1158h2L341,1130.5v-2.5H305v2.5Z"/>
<path d="M322,1158h2L341,1130.5v-2.5H308v2.5Z"/>
<path d="M325,1158h2L344,1130.5v-2.5H308v2.5Z"/>
<path d="M325,1158h2L344,1130.5v-2.5H308v2.5Z"/>
<path d="M328,1158h2L347,1130.5v-2.5H311v2.5Z"/>
<path d="M328,1158h2L347,1130.5v-2.5H311v2.5Z"/>
<path d="M331,1158h2L350,1127.5v-2.5H314v2.5Z"/>
<path d="M331,1158h2L350,1127.5v-2.5H314v2.5Z"/>
<path d="M334,1158h2L353,1127.5v-2.5H317v2.5Z"/>
<path d="M334,1155h2L353,1127.5v-2.5H320v2.5Z"/>
<path d="M337,1155h2L356,1127.5v-2.5H320v2.5Z"/>
<path d="M337,1155h2L356,1127.5v-2.5H323v2.5Z"/>
<path d="M340,1155h2L359,1127.5v-2.5H323v2.5Z"/>
<path d="M340,1155h2L359,1127.5v-2.5H326v2.5Z"/>
<path d="M343,1155h2L362,1124.5v-2.5H326v2.5Z"/>
<path d="M346,1155h2L362,1124.5v-2.5H329v2.5Z"/>
<path d="M346,1155h2L365,1124.5v-2.5H329v2.5Z"/>
<path d="M349,1152h2L368,1124.5v-2.5H332v2.5Z"/>
<path d="M349,1152h2L368,1124.5v-2.5H332v2.5Z"/>
<path d="M352,1152h2L371,1124.5v-2.5H335v2.5Z"/>
<path d="M352,1152h2L371,1124.5v-2.5H338v2.5Z"/>
<path d="M355,1152h2L374,1121.5v-2.5H338v2.5Z"/>
<path d="M358,1152h2L374,1121.5v-2.5H341v2.5Z"/>
<path d="M358,1149h2L377,1121.5v-2.5H341v2.5Z"/>
<path d="M361,1149h2L380,1121.5v-2.5H344v2.5Z"/>
<path d="M361,1149h2L380,1121.5v-2.5H347v2.5Z"/>
<path d="M364,1149h2L383,1121.5v-2.5H347v2.5Z"/>
<path d="M367,1149h2L383,1121.5v-2.5H350v2.5Z"/>
<path d="M367,1149h2L386,1118.5v-2.5H350v2.5Z"/>
<path d="M370,1149h2L389,1118.5v-2.5H353v2.5Z"/>
<path d="M370,1146h2L389,1118.5v-2.5H356v2.5Z"/>
<path d="M373,1146h2L392,1118.5v-2.5H356v2.5Z"/>
<path d="M376,1146h2L395,1118.5v-2.5H359v2.5Z"/>
<path d="M376,1146h2L395,1115.5v-2.5H362v2.5Z"/>
<path d="M379,1146h2L398,1115.5v-2.5H362v2.5Z"/>
<path d="M382,1143h2L401,1115.5v-2.5H365v2.5Z"/>
<path d="M382,1143h2L401,1115.5v-2.5H368v2.5Z"/>
<path d="M385,1143h2L404,1115.5v-2.5H368v2.5Z"/>
<path d="M388,1143h2L407,1112.5v-2.5H371v2.5Z"/>
<path d="M391,1143h2L407,1112.5v-2.5H374v2.5Z"/>
<path d="M391,1140h2L410,1112.5v-2.5H374v2.5Z"/>
<path d="M394,1140h2L413,1112.5v-2.5H377v2.5Z"/>
<path d="M397,1140h2L416,1112.5v-2.5H380v2.5Z"/>
<path d="M397,1140h2L416,1109.5v-2.5H383v2.5Z"/>
<path d="M400,1140h2L419,1109.5v-2.5H383v2.5Z"/>
<path d="M403,1137h2L422,1109.5v-2.5H386v2.5Z"/>
<path d="M406,1137h2L422,1109.5v-2.5H389v2.5Z"/>
<path d="M406,1137h2L425,1106.5v-2.5H392v2.5Z"/>
<path d="M409,1137h2L428,1106.5v-2.5H392v2.5Z"/>
<path d="M412,1134h2L431,1106.5v-2.5H395v2.5Z"/>
<path d="M415,1134h2L434,1106.5v-2.5H398v2.5Z"/>
<path d="M418,1134h2L434,1103.5v-2.5H401v2.5Z"/>
<path d="M418,1134h2L437,1103.5v-2.5H404v2.5Z"/>
<path d="M421,1131h2L440,1103.5v-2.5H404v2.5Z"/>
<path d="M424,1131h2L443,1103.5v-2.5H407v2.5Z"/>
<path d="M427,1131h2L446,1100.5v-2.5H410v2.5Z"/>
<path d="M430,1128h2L449,1100.5v-2.5H413v2.5Z"/>
<path d="M433,1128h2L449,1100.5v-2.5H416v2.5Z"/>
<path d="M436,1128h2L452,1100.5v-2.5H419v2.5Z"/>
<path d="M436,1128h2L455,1097.5v-2.5H422v2.5Z"/>
<path d="M439,1125h2L458,1097.5v-2.5H422v2.5Z"/>
<path d="M442,1125h2L461,1097.5v-2.5H425v2.5Z"/>
<path d="M445,1125h2L464,1094.5v-2.5H428v2.5Z"/>
<path d="M448,1122h2L467,1094.5v-2.5H431v2.5Z"/>
<path d="M451,1122h2L470,1094.5v-2.5H434v2.5Z"/>
<path d="M454,1122h2L473,1091.5v-2.5H437v2.5Z"/>
<path d="M457,1119h2L476,1091.5v-2.5H440v2.5Z"/>
<path d="M460,1119h2L479,1091.5v-2.5H443v2.5Z"/>
<path d="M463,1116h2L482,1088.5v-2.5H446v2.5Z"/>
<path d="M466,1116h2L485,1088.5v-2.5H449v2.5Z"/>
<path d="M469,1116h2L488,1085.5v-2.5H452v2.5Z"/>
<path d="M472,1113h2L491,1085.5v-2.5H455v2.5Z"/>
<path d="M475,1113h2L494,1085.5v-2.5H458v2.5Z"/>
<path d="M478,1110h2L497,1082.5v-2.5H461v2.5Z"/>
<path d="M481,1110h2L500,1082.5v-2.5H464v2.5Z"/>
<path d="M484,1110h2L503,1079.5v-2.5H467v2.5Z"/>
<path d="M487,1107h2L506,1079.5v-2.5H473v2.5Z"/>
<path d="M493,1107h2L509,1076.5v-2.5H476v2.5Z"/>
<path d="M496,1104h2L512,1076.5v-2.5H479v2.5Z"/>
<path d="M499,1104h2L518,1073.5v-2.5H482v2.5Z"/>
<path d="M502,1101h2L521,1073.5v-2.5H485v2.5Z"/>
<path d="M505,1101h2L524,1070.5v-2.5H488v2.5Z"/>
<path d="M508,1098h2L527,1070.5v-2.5H494v2.5Z"/>
<path d="M514,1098h2L530,1067.5v-2.5H497v2.5Z"/>
<path d="M517,1095h2L536,1067.5v-2.5H500v2.5Z"/>
<path d="M520,1095h2L539,1064.5v-2.5H503v2.5Z"/>
<path d="M523,1092h2L542,1064.5v-2.5H509v2.5Z"/>
<path d="M529,1092h2L548,1061.5v-2.5H512v2.5Z"/>
<path d="M532,1089h2L551,1061.5v-2.5H515v2.5Z"/>
<path d="M535,1086h2L554,1058.5v-2.5H521v2.5Z"/>
<path d="M541,1086h2L560,1055.5v-2.5H524v2.5Z"/>
<path d="M544,1083h2L563,1055.5v-2.5H527v2.5Z"/>
<path d="M550,1080h2L566,1052.5v-2.5H533v2.5Z"/>
<path d="M553,1080h2L572,1049.5v-2.5H536v2.5Z"/>
<path d="M556,1077h2L575,1049.5v-2.5H542v2.5Z"/>
<path d="M562,1074h2L581,1046.5v-2.5H545v2.5Z"/>
<path d="M565,1074h2L584,1043.5v-2.5H551v2.5Z"/>
<path d="M571,1071h2L590,1043.5v-2.5H554v2.5Z"/>
<path d="M574,1068h2L593,1040.5v-2.5H560v2.5Z"/>
<path d="M580,1065h2L599,1037.5v-2.5H563v2.5Z"/>
<path d="M586,1065h2L602,1034.5v-2.5H569v2.5Z"/>
<path d="M589,1062h2L608,1031.5v-2.5H572v2.5Z"/>
<path d="M595,1059h2L614,1031.5v-2.5H578v2.5Z"/>
<path d="M601,1056h2L617,1028.5v-2.5H584v2.5Z"/>
<path d="M604,1053h2L623,1025.5v-2.5H590v2.5Z"/>
<path d="M610,1050h2L629,1022.5v-2.5H593v2.5Z"/>
<path d="M616,1047h2L635,1019.5v-2.5H599v2.5Z"/>
<path d="M622,1044h2L641,1016.5v-2.5H605v2.5Z"/>
<path d="M628,1041h2L644,1013.5v-2.5H611v2.5Z"/>
<path d="M631,1038h2L650,1010.5v-2.5H617v2.5Z"/>
<path d="M637,1035h2L656,1007.5v-2.5H620v2.5Z"/>
<path d="M643,1032h2L662,1004.5v-2.5H626v2.5Z"/>
<path d="M649,1029h2L668,1001.5v-2.5H632v2.5Z"/>
<path d="M655,1026h2L674,998.5v-2.5H638v2.5Z"/>
<path d="M661,1023h2L680,992.5v-2.5H644v2.5Z"/>
<path d="M667,1017h2L686,989.5v-2.5H653v2.5Z"/>
<path d="M676,1014h2L692,986.5v-2.5H659v2.5Z"/>
<path d="M682,1011h2L701,983.5v-2.5H665v2.5Z"/>
<path d="M688,1008h2L707,977.5v-2.5H671v2.5Z"/>
<path d="M694,1002h2L713,974.5v-2.5H677v2.5Z"/>
<path d="M700,999h2L719,968.5v-2.5H686v2.5Z"/>
<path d="M709,993h2L728,965.5v-2.5H692v2.5Z"/>
<path d="M715,990h2L734,962.5v-2.5H698v2.5Z"/>
<path d="M724,984h2L743,956.5v-2.5H707v2.5Z"/>
<path d="M730,981h2L749,950.5v-2.5H713v2.5Z"/>
<path d="M739,975h2L758,947.5v-2.5H722v2.5Z"/>
<path d="M745,969h2L764,941.5v-2.5H731v2.5Z"/>
<path d="M754,966h2L773,935.5v-2.5H737v2.5Z"/>
<path d="M763,960h2L782,932.5v-2.5H746v2.5Z"/>
<path d="M772,954h2L788,926.5v-2.5H755v2.5Z"/>
<path d="M778,948h2L797,920.5v-2.5H764v2.5Z"/>
<path d="M787,942h2L806,914.5v-2.5H773v2.5Z"/>
<path d="M796,936h2L815,908.5v-2.5H782v2.5Z"/>
<path d="M805,930h2L824,902.5v-2.5H791v2.5Z"/>
<path d="M817,924h2L833,893.5v-2.5H800v2.5Z"/>
<path d="M826,915h2L845,887.5v-2.5H809v2.5Z"/>
<path d="M835,909h2L854,881.5v-2.5H818v2.5Z"/>
<path d="M844,903h2L863,872.5v-2.5H830v2.5Z"/>
<path d="M856,894h2L875,866.5v-2.5H839v2.5Z"/>
<path d="M865,885h2L884,857.5v-2.5H851v2.5Z"/>
<path d="M877,879h2L896,848.5v-2.5H860v2.5Z"/>
<path d="M889,870h2L908,839.5v-2.5H872v2.5Z"/>
<path d="M901,861h2L917,830.5v-2.5H884v2.5Z"/>
<path d="M910,852h2L929,821.5v-2.5H896v2.5Z"/>
<path d="M922,843h2L941,812.5v-2.5H908v2.5Z"/>
<path d="M937,831h2L953,803.5v-2.5H920v2.5Z"/>
<path d="M949,822h2L968,791.5v-2.5H932v2.5Z"/>
<path d="M961,810h2L980,782.5v-2.5H944v2.5Z"/>
<path d="M976,798h2L992,770.5v-2.5H959v2.5Z"/>
<path d="M988,786h2L1007,758.5v-2.5H971v2.5Z"/>
<path d="M1003,774h2L1022,746.5v-2.5H986v2.5Z"/>
<path d="M1018,762h2L1037,731.5v-2.5H1001v2.5Z"/>
<path d="M1033,747h2L1052,719.5v-2.5H1016v2.5Z"/>
<path d="M1048,732h2L1067,704.5v-2.5H1031v2.5Z"/>
<path d="M1063,717h2L1082,689.5v-2.5H1049v2.5Z"/>
<path d="M1081,702h2L1100,674.5v-2.5H1064v2.5Z"/>
<path d="M1099,687h2L1115,656.5v-2.5H1082v2.5Z"/>
<path d="M1114,669h2L1133,641.5v-2.5H1100v2.5Z"/>
<path d="M1132,651h2L1151,620.5v-2.5H1118v2.5Z"/>
<path d="M1153,630h2L1172,602.5v-2.5H1136v2.5Z"/>
<path d="M1171,612h2L1190,581.5v-2.5H1154v2.5Z"/>
<path d="M1192,591h2L1211,560.5v-2.5H1175v2.5Z"/>
<path d="M1213,567h2L1232,536.5v-2.5H1196v2.5Z"/>
<path d="M1234,540h2L1253,512.5v-2.5H1217v2.5Z"/>
<path d="M1255,516h2L1274,488.5v-2.5H1241v2.5Z"/>
<path d="M1279,492h2L1298,461.5v-2.5H1262v2.5Z"/>
<path d="M1303,462h2L1322,434.5v-2.5H1286v2.5Z"/>
<path d="M1327,432h2L1346,404.5v-2.5H1313v2.5Z"/>
<path d="M1354,402h2L1373,374.5v-2.5H1337v2.5Z"/>
<path d="M1381,369h2L1400,341.5v-2.5H1364v2.5Z"/>
<path d="M1408,333h2L1427,305.5v-2.5H1391v2.5Z"/>
<path d="M1438,297h2L1457,266.5v-2.5H1421v2.5Z"/>
<path d="M1468,255h2L1487,224.5v-2.5H1451v2.5Z"/>
<path d="M1501,210h2L1520,182.5v-2.5H1484v2.5Z"/>
<path d="M1534,168h2L1553,137.5v-2.5H1517v2.5Z"/>
<path d="M1567,120h2L1586,89.5v-2.5H1553v2.5Z"/>
<path d="M1603,63h2L1622,43.5v-2.5H1589v2.5Z"/>
</g>
<g id="seriesE" fill="#ff00ff">
<path d="M285,1157v2L293.5,1176h2.5V1140h-2.5Z"/>
<path d="M285,1157v2L296.5,1173h2.5V1140h-2.5Z"/>
<path d="M285,1157v2L296.5,1173h2.5V1140h-2.5Z"/>
<path d="M285,1157v2L296.5,1173h2.5V1140h-2.5Z"/>
<path d="M285,1157v2L299.5,1173h2.5V1140h-2.5Z"/>
<path d="M285,1157v2L299.5,1173h2.5V1140h-2.5Z"/>
<path d="M285,1157v2L299.5,1173h2.5V1140h-2.5Z"/>
<path d="M285,1157v2L302.5,1173h2.5V1140h-2.5Z"/>
<path d="M285,1157v2L302.5,1173h2.5V1140h-2.5Z"/>
<path d="M285,1157v2L305.5,1173h2.5V1140h-2.5Z"/>
<path d="M285,1154v2L305.5,1173h2.5V1140h-2.5Z"/>
<path d="M285,1154v2L305.5,1173h2.5V1140h-2.5Z"/>
<path d="M285,1154v2L308.5,1173h2.5V1140h-2.5Z"/>
<path d="M285,1154v2L308.5,1173h2.5V1140h-2.5Z"/>
<path d="M285,1154v2L311.5,1173h2.5V1140h-2.5Z"/>
<path d="M285,1154v2L311.5,1173h2.5V1140h-2.5Z"/>
<path d="M285,1154v2L314.5,1173h2.5V1140h-2.5Z"/>
<path d="M287,1154v2L314.5,1173h2.5V1140h-2.5Z"/>
<path d="M287,1154v2L314.5,1173h2.5V1137h-2.5Z"/>
<path d="M287,1154v2L317.5,1173h2.5V1137h-2.5Z"/>
<path d="M290,1154v2L317.5,1173h2.5V1137h-2.5Z"/>
<path d="M290,1154v2L320.5,1173h2.5V1137h-2.5Z"/>
<path d="M293,1154v2L320.5,1173h2.5V1137h-2.5Z"/>
<path d="M293,1154v2L323.5,1173h2.5V1137h-2.5Z"/>
<path d="M296,1154v2L323.5,1173h2.5V1137h-2.5Z"/>
<path d="M296,1154v2L326.5,1170h2.5V1137h-2.5Z"/>
<path d="M299,1154v2L326.5,1170h2.5V1137h-2.5Z"/>
<path d="M299,1154v2L326.5,1170h2.5V1137h-2.5Z"/>
<path d="M302,1154v2L329.5,1170h2.5V1137h-2.5Z"/>
<path d="M302,1154v2L329.5,1170h2.5V1137h-2.5Z"/>
<path d="M305,1154v2L332.5,1170h2.5V1137h-2.5Z"/>
<path d="M305,1151v2L332.5,1170h2.5V1137h-2.5Z"/>
<path d="M305,1151v2L335.5,1170h2.5V1137h-2.5Z"/>
<path d="M308,1151v2L335.5,1170h2.5V1137h-2.5Z"/>
<path d="M308,1151v2L338.5,1170h2.5V1137h-2.5Z"/>
<path d="M311,1151v2L338.5,1170h2.5V1137h-2.5Z"/>
<path d="M311,1151v2L341.5,1170h2.5V1134h-2.5Z"/>
<path d="M314,1151v2L341.5,1170h2.5V1134h-2.5Z"/>
<path d="M317,1151v2L344.5,1170h2.5V1134h-2.5Z"/>
<path d="M317,1151v2L344.5,1170h2.5V1134h-2.5Z"/>
<path d="M320,1151v2L347.5,1170h2.5V1134h-2.5Z"/>
<path d="M320,1151v2L347.5,1167h2.5V1134h-2.5Z"/>
<path d="M323,1151v2L350.5,1167h2.5V1134h-2.5Z"/>
<path d="M323,1151v2L353.5,1167h2.5V1134h-2.5Z"/>
<path d="M326,1151v2L353.5,1167h2.5V1134h-2.5Z"/>
<path d="M326,1148v2L356.5,1167h2.5V1134h-2.5Z"/>
<path d="M329,1148v2L356.5,1167h2.5V1134h-2.5Z"/>
<path d="M329,1148v2L359.5,1167h2.5V1134h-2.5Z"/>
<path d="M332,1148v2L359.5,1167h2.5V1134h-2.5Z"/>
<path d="M335,1148v2L362.5,1167h2.5V1131h-2.5Z"/>
<path d="M335,1148v2L362.5,1167h2.5V1131h-2.5Z"/>
<path d="M338,1148v2L365.5,1167h2.5V1131h-2.5Z"/>
<path d="M338,1148v2L368.5,1164h2.5V1131h-2.5Z"/>
<path d="M341,1148v2L368.5,1164h2.5V1131h-2.5Z"/>
<path d="M344,1148v2L371.5,1164h2.5V1131h-2.5Z"/>
<path d="M344,1148v2L371.5,1164h2.5V1131h-2.5Z"/>
<path d="M347,1145v2L374.5,1164h2.5V1131h-2.5Z"/>
<path d="M347,1145v2L377.5,1164h2.5V1131h-2.5Z"/>
<path d="M350,1145v2L377.5,1164h2.5V1131h-2.5Z"/>
<path d="M353,1145v2L380.5,1164h2.5V1128h-2.5Z"/>
<path d="M353,1145v2L383.5,1164h2.5V1128h-2.5Z"/>
<path d="M356,1145v2L383.5,1164h2.5V1128h-2.5Z"/>
<path d="M359,1145v2L386.5,1161h2.5V1128h-2.5Z"/>
<path d="M359,1145v2L389.5,1161h2.5V1128h-2.5Z"/>
<path d="M362,1145v2L389.5,1161h2.5V1128h-2.5Z"/>
<path d="M365,1142v2L392.5,1161h2.5V1128h-2.5Z"/>
<path d="M365,1142v2L395.5,1161h2.5V1128h-2.5Z"/>
<path d="M368,1142v2L395.5,1161h2.5V1125h-2.5Z"/>
<path d="M371,1142v2L398.5,1161h2.5V1125h-2.5Z"/>
<path d="M371,1142v2L401.5,1161h2.5V1125h-2.5Z"/>
<path d="M374,1142v2L401.5,1158h2.5V1125h-2.5Z"/>
<path d="M377,1142v2L404.5,1158h2.5V1125h-2.5Z"/>
<path d="M380,1139v2L407.5,1158h2.5V1125h-2.5Z"/>
<path d="M380,1139v2L410.5,1158h2.5V1125h-2.5Z"/>
<path d="M383,1139v2L410.5,1158h2.5V1122h-2.5Z"/>
<path d="M386,1139v2L413.5,1158h2.5V1122h-2.5Z"/>
<path d="M389,1139v2L416.5,1155h2.5V1122h-2.5Z"/>
<path d="M389,1139v2L419.5,1155h2.5V1122h-2.5Z"/>
<path d="M392,1136v2L419.5,1155h2.5V1122h-2.5Z"/>
<path d="M395,1136v2L422.5,1155h2.5V1122h-2.5Z"/>
<path d="M398,1136v2L425.5,1155h2.5V1119h-2.5Z"/>
<path d="M401,1136v2L428.5,1155h2.5V1119h-2.5Z"/>
<path d="M401,1136v2L431.5,1152h2.5V1119h-2.5Z"/>
<path d="M404,1136v2L434.5,1152h2.5V1119h-2.5Z"/>
<path d="M407,1133v2L434.5,1152h2.5V1119h-2.5Z"/>
<path d="M410,1133v2L437.5,1152h2.5V1119h-2.5Z"/>
<path d="M413,1133v2L440.5,1152h2.5V1116h-2.5Z"/>
<path d="M416,1133v2L443.5,1149h2.5V1116h-2.5Z"/>
<path d="M419,1133v2L446.5,1149h2.5V1116h-2.5Z"/>
<path d="M419,1130v2L449.5,1149h2.5V1116h-2.5Z"/>
<path d="M422,1130v2L452.5,1149h2.5V1116h-2.5Z"/>
<path d="M425,1130v2L455.5,1149h2.5V1113h-2.5Z"/>
<path d="M428,1130v2L458.5,1146h2.5V1113h-2.5Z"/>
<path d="M431,1130v2L461.5,1146h2.5V1113h-2.5Z"/>
<path d="M434,1127v2L461.5,1146h2.5V1113h-2.5Z"/>
<path d="M437,1127v2L464.5,1146h2.5V1110h-2.5Z"/>
<path d="M440,1127v2L467.5,1143h2.5V1110h-2.5Z"/>
<path d="M443,1127v2L470.5,1143h2.5V1110h-2.5Z"/>
<path d="M446,1124v2L473.5,1143h2.5V1110h-2.5Z"/>
<path d="M449,1124v2L476.5,1143h2.5V1107h-2.5Z"/>
<path d="M452,1124v2L479.5,1140h2.5V1107h-2.5Z"/>
<path d="M455,1121v2L485.5,1140h2.5V1107h-2.5Z"/>
<path d="M458,1121v2L488.5,1140h2.5V1107h-2.5Z"/>
<path d="M461,1121v2L491.5,1140h2.5V1104h-2.5Z"/>
<path d="M464,1121v2L494.5,1137h2.5V1104h-2.5Z"/>
<path d="M470,1118v2L497.5,1137h2.5V1104h-2.5Z"/>
<path d="M473,1118v2L500.5,1137h2.5V1101h-2.5Z"/>
<path d="M476,1118v2L503.5,1134h2.5V1101h-2.5Z"/>
<path d="M479,1115v2L506.5,1134h2.5V1101h-2.5Z"/>
<path d="M482,1115v2L512.5,1134h2.5V1098h-2.5Z"/>
<path d="M485,1115v2L515.5,1131h2.5V1098h-2.5Z"/>
<path d="M491,1112v2L518.5,1131h2.5V1098h-2.5Z"/>
<path d="M494,1112v2L521.5,1131h2.5V1095h-2.5Z"/>
<path d="M497,1112v2L524.5,1128h2.5V1095h-2.5Z"/>
<path d="M500,1109v2L530.5,1128h2.5V1095h-2.5Z"/>
<path d="M506,1109v2L533.5,1128h2.5V1092h-2.5Z"/>
<path d="M509,1109v2L536.5,1125h2.5V1092h-2.5Z"/>
<path d="M512,1106v2L542.5,1125h2.5V1092h-2.5Z"/>
<path d="M518,1106v2L545.5,1122h2.5V1089h-2.5Z"/>
<path d="M521,1103v2L548.5,1122h2.5V1089h-2.5Z"/>
<path d="M524,1103v2L554.5,1122h2.5V1086h-2.5Z"/>
<path d="M530,1103v2L557.5,1119h2.5V1086h-2.5Z"/>
<path d="M533,1100v2L560.5,1119h2.5V1083h-2.5Z"/>
<path d="M539,1100v2L566.5,1116h2.5V1083h-2.5Z"/>
<path d="M542,1097v2L569.5,1116h2.5V1083h-2.5Z"/>
<path d="M548,1097v2L575.5,1113h2.5V1080h-2.5Z"/>
<path d="M551,1094v2L578.5,1113h2.5V1080h-2.5Z"/>
<path d="M557,1094v2L584.5,1110h2.5V1077h-2.5Z"/>
<path d="M560,1091v2L590.5,1110h2.5V1077h-2.5Z"/>
<path d="M566,1091v2L593.5,1107h2.5V1074h-2.5Z"/>
<path d="M569,1088v2L599.5,1107h2.5V1071h-2.5Z"/>
<path d="M575,1088v2L602.5,1104h2.5V1071h-2.5Z"/>
<path d="M581,1085v2L608.5,1104h2.5V1068h-2.5Z"/>
<path d="M587,1082v2L614.5,1101h2.5V1068h-2.5Z"/>
<path d="M590,1082v2L620.5,1101h2.5V1065h-2.5Z"/>
<path d="M596,1079v2L623.5,1098h2.5V1065h-2.5Z"/>
<path d="M602,1079v2L629.5,1095h2.5V1062h-2.5Z"/>
<path d="M608,1076v2L635.5,1095h2.5V1059h-2.5Z"/>
<path d="M614,1073v2L641.5,1092h2.5V1059h-2.5Z"/>
<path d="M617,1073v2L647.5,1089h2.5V1056h-2.5Z"/>
<path d="M623,1070v2L653.5,1089h2.5V1053h-2.5Z"/>
<path d="M629,1067v2L659.5,1086h2.5V1053h-2.5Z"/>
<path d="M635,1067v2L665.5,1083h2.5V1050h-2.5Z"/>
<path d="M641,1064v2L671.5,1080h2.5V1047h-2.5Z"/>
<path d="M650,1061v2L677.5,1080h2.5V1044h-2.5Z"/>
<path d="M656,1058v2L683.5,1077h2.5V1044h-2.5Z"/>
<path d="M662,1055v2L689.5,1074h2.5V1041h-2.5Z"/>
<path d="M668,1055v2L695.5,1071h2.5V1038h-2.5Z"/>
<path d="M674,1052v2L704.5,1068h2.5V1035h-2.5Z"/>
<path d="M683,1049v2L710.5,1065h2.5V1032h-2.5Z"/>
<path d="M689,1046v2L716.5,1065h2.5V1029h-2.5Z"/>
<path d="M695,1043v2L725.5,1062h2.5V1026h-2.5Z"/>
<path d="M704,1040v2L731.5,1059h2.5V1023h-2.5Z"/>
<path d="M710,1037v2L740.5,1056h2.5V1020h-2.5Z"/>
<path d="M719,1034v2L746.5,1053h2.5V1017h-2.5Z"/>
<path d="M728,1031v2L755.5,1047h2.5V1014h-2.5Z"/>
<path d="M734,1028v2L764.5,1044h2.5V1011h-2.5Z"/>
<path d="M743,1025v2L770.5,1041h2.5V1008h-2.5Z"/>
<path d="M752,1019v2L779.5,1038h2.5V1005h-2.5Z"/>
<path d="M761,1016v2L788.5,1035h2.5V1002h-2.5Z"/>
<path d="M770,1013v2L797.5,1032h2.5V996h-2.5Z"/>
<path d="M779,1010v2L806.5,1026h2.5V993h-2.5Z"/>
<path d="M788,1004v2L815.5,1023h2.5V990h-2.5Z"/>
<path d="M797,1001v2L824.5,1020h2.5V984h-2.5Z"/>
<path d="M806,995v2L833.5,1014h2.5V981h-2.5Z"/>
<path d="M815,992v2L845.5,1011h2.5V975h-2.5Z"/>
<path d="M827,986v2L854.5,1005h2.5V972h-2.5Z"/>
<path d="M836,983v2L863.5,999h2.5V966h-2.5Z"/>
<path d="M848,977v2L875.5,996h2.5V960h-2.5Z"/>
<path d="M857,971v2L884.5,990h2.5V957h-2.5Z"/>
<path d="M869,968v2L896.5,984h2.5V951h-2.5Z"/>
<path d="M881,962v2L908.5,978h2.5V945h-2.5Z"/>
<path d="M893,956v2L920.5,972h2.5V939h-2.5Z"/>
<path d="M905,950v2L932.5,966h2.5V933h-2.5Z"/>
<path d="M917,944v2L944.5,960h2.5V927h-2.5Z"/>
<path d="M929,935v2L956.5,954h2.5V921h-2.5Z"/>
<path d="M941,929v2L971.5,948h2.5V912h-2.5Z"/>
<path d="M956,923v2L983.5,939h2.5V906h-2.5Z"/>
<path d="M968,914v2L998.5,933h2.5V897h-2.5Z"/>
<path d="M983,908v2L1010.5,924h2.5V891h-2.5Z"/>
<path d="M998,899v2L1025.5,915h2.5V882h-2.5Z"/>
<path d="M1013,890v2L1040.5,906h2.5V873h-2.5Z"/>
<path d="M1028,881v2L1058.5,897h2.5V864h-2.5Z"/>
<path d="M1046,872v2L1073.5,888h2.5V855h-2.5Z"/>
<path d="M1061,860v2L1088.5,879h2.5V846h-2.5Z"/>
<path d="M1079,851v2L1106.5,867h2.5V834h-2.5Z"/>
<path d="M1097,842v2L1124.5,858h2.5V825h-2.5Z"/>
<path d="M1115,830v2L1142.5,846h2.5V813h-2.5Z"/>
<path d="M1133,815v2L1160.5,834h2.5V801h-2.5Z"/>
<path d="M1151,803v2L1181.5,822h2.5V786h-2.5Z"/>
<path d="M1172,788v2L1199.5,807h2.5V774h-2.5Z"/>
<path d="M1193,776v2L1220.5,792h2.5V759h-2.5Z"/>
<path d="M1214,758v2L1241.5,777h2.5V744h-2.5Z"/>
<path d="M1238,743v2L1265.5,762h2.5V726h-2.5Z"/>
<path d="M1259,728v2L1289.5,744h2.5V711h-2.5Z"/>
<path d="M1283,707v2L1313.5,726h2.5V693h-2.5Z"/>
<path d="M1310,686v2L1337.5,705h2.5V672h-2.5Z"/>
<path d="M1334,668v2L1361.5,687h2.5V654h-2.5Z"/>
<path d="M1361,644v2L1388.5,663h2.5V630h-2.5Z"/>
<path d="M1388,623v2L1418.5,642h2.5V609h-2.5Z"/>
<path d="M1418,599v2L1448.5,618h2.5V585h-2.5Z"/>
<path d="M1448,572v2L1478.5,591h2.5V558h-2.5Z"/>
<path d="M1481,545v2L1508.5,564h2.5V528h-2.5Z"/>
<path d="M1514,515v2L1541.5,534h2.5V498h-2.5Z"/>
<path d="M1550,482v2L1577.5,501h2.5V465h-2.5Z"/>
<path d="M1586,449v2L1613.5,468h2.5V432h-2.5Z"/>
<path d="M1622,413v2L1652.5,432h2.5V396h-2.5Z"/>
<path d="M1664,374v2L1691.5,390h2.5V357h-2.5Z"/>
<path d="M1703,332v2L1733.5,348h2.5V315h-2.5Z"/>
</g>
<g id="seriesF" fill="#808000">
<path d="M308,1160v2L287.5,1176h-2.5V1146h2.5Z"/>
<path d="M308,1160v2L287.5,1176h-2.5V1146h2.5Z"/>
<path d="M308,1160v2L287.5,1176h-2.5V1146h2.5Z"/>
<path d="M311,1160v2L287.5,1176h-2.5V1146h2.5Z"/>
<path d="M311,1160v2L287.5,1176h-2.5V1146h2.5Z"/>
<path d="M311,1160v2L287.5,1176h-2.5V1146h2.5Z"/>
<path d="M314,1160v2L287.5,1176h-2.5V1146h2.5Z"/>
<path d="M314,1160v2L287.5,1176h-2.5V1146h2.5Z"/>
<path d="M317,1160v2L287.5,1176h-2.5V1146h2.5Z"/>
<path d="M317,1160v2L289.5,1176h-2.5V1146h2.5Z"/>
<path d="M317,1160v2L289.5,1176h-2.5V1146h2.5Z"/>
<path d="M320,1160v2L289.5,1176h-2.5V1143h2.5Z"/>
<path d="M320,1160v2L292.5,1176h-2.5V1143h2.5Z"/>
<path d="M323,1160v2L292.5,1176h-2.5V1143h2.5Z"/>
<path d="M323,1160v2L295.5,1176h-2.5V1143h2.5Z"/>
<path d="M323,1160v2L295.5,1176h-2.5V1143h2.5Z"/>
<path d="M326,1160v2L298.5,1176h-2.5V1143h2.5Z"/>
<path d="M326,1160v2L298.5,1176h-2.5V1143h2.5Z"/>
<path d="M329,1160v2L298.5,1176h-2.5V1143h2.5Z"/>
<path d="M329,1160v2L301.5,1176h-2.5V1143h2.5Z"/>
<path d="M332,1160v2L301.5,1176h-2.5V1143h2.5Z"/>
<path d="M332,1160v2L304.5,1176h-2.5V1143h2.5Z"/>
<path d="M332,1160v2L304.5,1176h-2.5V1143h2.5Z"/>
<path d="M335,1160v2L307.5,1176h-2.5V1143h2.5Z"/>
<path d="M335,1157v2L307.5,1176h-2.5V1143h2.5Z"/>
<path d="M338,1157v2L310.5,1176h-2.5V1143h2.5Z"/>
<path d="M338,1157v2L310.5,1176h-2.5V1143h2.5Z"/>
<path d="M341,1157v2L310.5,1176h-2.5V1143h2.5Z"/>
<path d="M341,1157v2L313.5,1176h-2.5V1143h2.5Z"/>
<path d="M344,1157v2L313.5,1176h-2.5V1143h2.5Z"/>
<path d="M344,1157v2L316.5,1176h-2.5V1143h2.5Z"/>
<path d="M347,1157v2L316.5,1176h-2.5V1143h2.5Z"/>
<path d="M347,1157v2L319.5,1176h-2.5V1143h2.5Z"/>
<path d="M350,1157v2L319.5,1176h-2.5V1143h2.5Z"/>
<path d="M350,1157v2L322.5,1173h-2.5V1140h2.5Z"/>
<path d="M353,1157v2L322.5,1173h-2.5V1140h2.5Z"/>
<path d="M353,1157v2L325.5,1173h-2.5V1140h2.5Z"/>
<path d="M356,1157v2L325.5,1173h-2.5V1140h2.5Z"/>
<path d="M356,1157v2L328.5,1173h-2.5V1140h2.5Z"/>
<path d="M359,1157v2L328.5,1173h-2.5V1140h2.5Z"/>
<path d="M359,1157v2L331.5,1173h-2.5V1140h2.5Z"/>
<path d="M362,1157v2L331.5,1173h-2.5V1140h2.5Z"/>
<path d="M362,1154v2L334.5,1173h-2.5V1140h2.5Z"/>
<path d="M365,1154v2L337.5,1173h-2.5V1140h2.5Z"/>
<path d="M365,1154v2L337.5,1173h-2.5V1140h2.5Z"/>
<path d="M368,1154v2L340.5,1173h-2.5V1140h2.5Z"/>
<path d="M371,1154v2L340.5,1173h-2.5V1140h2.5Z"/>
<path d="M371,1154v2L343.5,1173h-2.5V1140h2.5Z"/>
<path d="M374,1154v2L343.5,1173h-2.5V1140h2.5Z"/>
<path d="M374,1154v2L346.5,1170h-2.5V1137h2.5Z"/>
<path d="M377,1154v2L346.5,1170h-2.5V1137h2.5Z"/>
<path d="M377,1154v2L349.5,1170h-2.5V1137h2.5Z"/>
<path d="M380,1154v2L352.5,1170h-2.5V1137h2.5Z"/>
<path d="M383,1154v2L352.5,1170h-2.5V1137h2.5Z"/>
<path d="M383,1154v2L355.5,1170h-2.5V1137h2.5Z"/>
<path d="M386,1151v2L355.5,1170h-2.5V1137h2.5Z"/>
<path d="M386,1151v2L358.5,1170h-2.5V1137h2.5Z"/>
<path d="M389,1151v2L361.5,1170h-2.5V1137h2.5Z"/>
<path d="M392,1151v2L361.5,1170h-2.5V1137h2.5Z"/>
<path d="M392,1151v2L364.5,1170h-2.5V1137h2.5Z"/>
<path d="M395,1151v2L367.5,1167h-2.5V1134h2.5Z"/>
<path d="M398,1151v2L367.5,1167h-2.5V1134h2.5Z"/>
<path d="M398,1151v2L370.5,1167h-2.5V1134h2.5Z"/>
<path d="M401,1151v2L373.5,1167h-2.5V1134h2.5Z"/>
<path d="M404,1151v2L373.5,1167h-2.5V1134h2.5Z"/>
<path d="M404,1148v2L376.5,1167h-2.5V1134h2.5Z"/>
<path d="M407,1148v2L379.5,1167h-2.5V1134h2.5Z"/>
<path d="M410,1148v2L379.5,1167h-2.5V1134h2.5Z"/>
<path d="M410,1148v2L382.5,1167h-2.5V1134h2.5Z"/>
<path d="M413,1148v2L385.5,1167h-2.5V1134h2.5Z"/>
<path d="M416,1148v2L385.5,1164h-2.5V1131h2.5Z"/>
<path d="M419,1148v2L388.5,1164h-2.5V1131h2.5Z"/>
<path d="M419,1148v2L391.5,1164h-2.5V1131h2.5Z"/>
<path d="M422,1148v2L394.5,1164h-2.5V1131h2.5Z"/>
<path d="M425,1145v2L394.5,1164h-2.5V1131h2.5Z"/>
<path d="M425,1145v2L397.5,1164h-2.5V1131h2.5Z"/>
<path d="M428,1145v2L400.5,1164h-2.5V1131h2.5Z"/>
<path d="M431,1145v2L403.5,1164h-2.5V1131h2.5Z"/>
<path d="M434,1145v2L403.5,1161h-2.5V1128h2.5Z"/>
<path d="M437,1145v2L406.5,1161h-2.5V1128h2.5Z"/>
<path d="M437,1145v2L409.5,1161h-2.5V1128h2.5Z"/>
<path d="M440,1142v2L412.5,1161h-2.5V1128h2.5Z"/>
<path d="M443,1142v2L415.5,1161h-2.5V1128h2.5Z"/>
<path d="M446,1142v2L418.5,1161h-2.5V1128h2.5Z"/>
<path d="M449,1142v2L418.5,1158h-2.5V1125h2.5Z"/>
<path d="M452,1142v2L421.5,1158h-2.5V1125h2.5Z"/>
<path d="M452,1142v2L424.5,1158h-2.5V1125h2.5Z"/>
<path d="M455,1139v2L427.5,1158h-2.5V1125h2.5Z"/>
<path d="M458,1139v2L430.5,1158h-2.5V1125h2.5Z"/>
<path d="M461,1139v2L433.5,1158h-2.5V1125h2.5Z"/>
<path d="M464,1139v2L436.5,1155h-2.5V1122h2.5Z"/>
<path d="M467,1139v2L439.5,1155h-2.5V1122h2.5Z"/>
<path d="M470,1139v2L442.5,1155h-2.5V1122h2.5Z"/>
<path d="M473,1136v2L445.5,1155h-2.5V1122h2.5Z"/>
<path d="M476,1136v2L445.5,1155h-2.5V1122h2.5Z"/>
<path d="M479,1136v2L448.5,1152h-2.5V1119h2.5Z"/>
<path d="M482,1136v2L451.5,1152h-2.5V1119h2.5Z"/>
<path d="M485,1136v2L454.5,1152h-2.5V1119h2.5Z"/>
<path d="M488,1133v2L457.5,1152h-2.5V1119h2.5Z"/>
<path d="M491,1133v2L460.5,1152h-2.5V1119h2.5Z"/>
<path d="M494,1133v2L463.5,1149h-2.5V1116h2.5Z"/>
<path d="M497,1133v2L469.5,1149h-2.5V1116h2.5Z"/>
<path d="M500,1130v2L472.5,1149h-2.5V1116h2.5Z"/>
<path d="M503,1130v2L475.5,1149h-2.5V1116h2.5Z"/>
<path d="M506,1130v2L478.5,1146h-2.5V1113h2.5Z"/>
<path d="M509,1130v2L481.5,1146h-2.5V1113h2.5Z"/>
<path d="M512,1130v2L484.5,1146h-2.5V1113h2.5Z"/>
<path d="M515,1127v2L487.5,1146h-2.5V1113h2.5Z"/>
<path d="M521,1127v2L490.5,1143h-2.5V1110h2.5Z"/>
<path d="M524,1127v2L496.5,1143h-2.5V1110h2.5Z"/>
<path d="M527,1124v2L499.5,1143h-2.5V1110h2.5Z"/>
<path d="M530,1124v2L502.5,1143h-2.5V1110h2.5Z"/>
<path d="M533,1124v2L505.5,1140h-2.5V1107h2.5Z"/>
<path d="M539,1124v2L508.5,1140h-2.5V1107h2.5Z"/>
<path d="M542,1121v2L514.5,1140h-2.5V1107h2.5Z"/>
<path d="M545,1121v2L517.5,1137h-2.5V1104h2.5Z"/>
<path d="M551,1121v2L520.5,1137h-2.5V1104h2.5Z"/>
<path d="M554,1118v2L526.5,1137h-2.5V1104h2.5Z"/>
<path d="M557,1118v2L529.5,1134h-2.5V1101h2.5Z"/>
<path d="M563,1118v2L532.5,1134h-2.5V1101h2.5Z"/>
<path d="M566,1115v2L538.5,1134h-2.5V1101h2.5Z"/>
<path d="M569,1115v2L541.5,1131h-2.5V1098h2.5Z"/>
<path d="M575,1115v2L544.5,1131h-2.5V1098h2.5Z"/>
<path d="M578,1112v2L550.5,1131h-2.5V1098h2.5Z"/>
<path d="M584,1112v2L553.5,1128h-2.5V1095h2.5Z"/>
<path d="M587,1109v2L559.5,1128h-2.5V1095h2.5Z"/>
<path d="M593,1109v2L562.5,1128h-2.5V1095h2.5Z"/>
<path d="M596,1109v2L568.5,1125h-2.5V1092h2.5Z"/>
<path d="M602,1106v2L574.5,1125h-2.5V1092h2.5Z"/>
<path d="M605,1106v2L577.5,1122h-2.5V1089h2.5Z"/>
<path d="M611,1103v2L583.5,1122h-2.5V1089h2.5Z"/>
<path d="M617,1103v2L586.5,1119h-2.5V1086h2.5Z"/>
<path d="M620,1100v2L592.5,1119h-2.5V1086h2.5Z"/>
<path d="M626,1100v2L598.5,1116h-2.5V1083h2.5Z"/>
<path d="M632,1097v2L604.5,1116h-2.5V1083h2.5Z"/>
<path d="M638,1097v2L607.5,1113h-2.5V1080h2.5Z"/>
<path d="M644,1094v2L613.5,1113h-2.5V1080h2.5Z"/>
<path d="M647,1094v2L619.5,1110h-2.5V1077h2.5Z"/>
<path d="M653,1091v2L625.5,1110h-2.5V1077h2.5Z"/>
<path d="M659,1091v2L631.5,1107h-2.5V1074h2.5Z"/>
<path d="M665,1088v2L637.5,1107h-2.5V1074h2.5Z"/>
<path d="M671,1088v2L643.5,1104h-2.5V1071h2.5Z"/>
<path d="M677,1085v2L649.5,1104h-2.5V1071h2.5Z"/>
<path d="M683,1082v2L655.5,1101h-2.5V1068h2.5Z"/>
<path d="M689,1082v2L661.5,1098h-2.5V1065h2.5Z"/>
<path d="M695,1079v2L667.5,1098h-2.5V1065h2.5Z"/>
<path d="M704,1076v2L673.5,1095h-2.5V1062h2.5Z"/>
<path d="M710,1076v2L679.5,1092h-2.5V1059h2.5Z"/>
<path d="M716,1073v2L688.5,1092h-2.5V1059h2.5Z"/>
<path d="M722,1070v2L694.5,1089h-2.5V1056h2.5Z"/>
<path d="M731,1070v2L700.5,1086h-2.5V1053h2.5Z"/>
<path d="M737,1067v2L709.5,1083h-2.5V1050h2.5Z"/>
<path d="M746,1064v2L715.5,1080h-2.5V1047h2.5Z"/>
<path d="M752,1061v2L724.5,1080h-2.5V1047h2.5Z"/>
<path d="M761,1058v2L730.5,1077h-2.5V1044h2.5Z"/>
<path d="M767,1055v2L739.5,1074h-2.5V1041h2.5Z"/>
<path d="M776,1052v2L748.5,1071h-2.5V1038h2.5Z"/>
<path d="M785,1049v2L754.5,1068h-2.5V1035h2.5Z"/>
<path d="M791,1046v2L763.5,1065h-2.5V1032h2.5Z"/>
<path d="M800,1043v2L772.5,1062h-2.5V1029h2.5Z"/>
<path d="M809,1040v2L781.5,1059h-2.5V1026h2.5Z"/>
<path d="M818,1037v2L790.5,1056h-2.5V1023h2.5Z"/>
<path d="M827,1034v2L799.5,1053h-2.5V1020h2.5Z"/>
<path d="M836,1031v2L808.5,1050h-2.5V1017h2.5Z"/>
<path d="M848,1028v2L817.5,1044h-2.5V1011h2.5Z"/>
<path d="M857,1025v2L829.5,1041h-2.5V1008h2.5Z"/>
<path d="M866,1019v2L838.5,1038h-2.5V1005h2.5Z"/>
<path d="M878,1016v2L847.5,1032h-2.5V999h2.5Z"/>
<path d="M887,1010v2L859.5,1029h-2.5V996h2.5Z"/>
<path d="M899,1007v2L868.5,1026h-2.5V993h2.5Z"/>
<path d="M911,1001v2L880.5,1020h-2.5V987h2.5Z"/>
<path d="M920,998v2L892.5,1014h-2.5V981h2.5Z"/>
<path d="M932,992v2L904.5,1011h-2.5V978h2.5Z"/>
<path d="M944,986v2L916.5,1005h-2.5V972h2.5Z"/>
<path d="M956,983v2L928.5,999h-2.5V966h2.5Z"/>
<path d="M971,977v2L940.5,993h-2.5V960h2.5Z"/>
<path d="M983,971v2L955.5,987h-2.5V954h2.5Z"/>
<path d="M995,965v2L967.5,981h-2.5V948h2.5Z"/>
<path d="M1010,959v2L982.5,978h-2.5V945h2.5Z"/>
<path d="M1025,953v2L994.5,972h-2.5V936h2.5Z"/>
<path d="M1040,944v2L1009.5,963h-2.5V930h2.5Z"/>
<path d="M1055,938v2L1024.5,954h-2.5V924h2.5Z"/>
<path d="M1070,929v2L1042.5,948h-2.5V915h2.5Z"/>
<path d="M1085,923v2L1057.5,942h-2.5V906h2.5Z"/>
<path d="M1103,914v2L1072.5,930h-2.5V897h2.5Z"/>
<path d="M1118,905v2L1090.5,921h-2.5V888h2.5Z"/>
<path d="M1136,896v2L1108.5,912h-2.5V879h2.5Z"/>
<path d="M1154,887v2L1126.5,903h-2.5V870h2.5Z"/>
<path d="M1175,875v2L1144.5,894h-2.5V858h2.5Z"/>
<path d="M1193,866v2L1165.5,882h-2.5V849h2.5Z"/>
<path d="M1214,854v2L1183.5,870h-2.5V837h2.5Z"/>
<path d="M1235,842v2L1204.5,858h-2.5V825h2.5Z"/>
<path d="M1256,830v2L1225.5,846h-2.5V813h2.5Z"/>
<path d="M1277,815v2L1249.5,834h-2.5V801h2.5Z"/>
<path d="M1301,803v2L1273.5,819h-2.5V786h2.5Z"/>
<path d="M1325,788v2L1297.5,804h-2.5V771h2.5Z"/>
<path d="M1349,770v2L1321.5,789h-2.5V756h2.5Z"/>
<path d="M1376,755v2L1345.5,771h-2.5V738h2.5Z"/>
<path d="M1403,737v2L1372.5,753h-2.5V720h2.5Z"/>
<path d="M1430,719v2L1402.5,735h-2.5V702h2.5Z"/>
<path d="M1460,698v2L1432.5,714h-2.5V681h2.5Z"/>
<path d="M1490,677v2L1462.5,693h-2.5V660h2.5Z"/>
<path d="M1523,653v2L1492.5,672h-2.5V639h2.5Z"/>
<path d="M1556,626v2L1525.5,645h-2.5V612h2.5Z"/>
<path d="M1589,602v2L1561.5,621h-2.5V588h2.5Z"/>
<path d="M1625,572v2L1597.5,591h-2.5V558h2.5Z"/>
<path d="M1664,542v2L1636.5,561h-2.5V528h2.5Z"/>
<path d="M1703,512v2L1675.5,528h-2.5V498h2.5Z"/>
<path d="M1745,476v2L1717.5,492h-2.5V462h2.5Z"/>
</g>
<g id="fits" stroke="#000" stroke-width="10" stroke-linecap="round" fill="none">
<line x1="436.2" y1="1184" x2="1037.6" y2="58.0"/>
<line x1="477.2" y1="1184" x2="1139.7" y2="70.8"/>
<line x1="538.2" y1="1184" x2="1235.8" y2="58.6"/>
<line x1="599.9" y1="1184" x2="1519.5" y2="197.0"/>
<line x1="667.4" y1="1184" x2="1650.4" y2="429.6"/>
<line x1="714.9" y1="1184" x2="1647.0" y2="547.3"/>
</g>
</g>
<g id="legend" shape-rendering="crispEdges">
<rect x="401" y="88" width="31" height="30" fill="#000"/>
<circle cx="416.5" cy="169.4" r="15.6" fill="#ff0000"/>
<path transform="translate(415.5,235.3)" fill="#0000ff" d="M-1,-20.5 L1,-20.5 L17.5,8 L17.5,10.5 L-17.5,10.5 L-17.5,8 Z"/>
<path transform="translate(415.5,300.3)" fill="#008080" d="M-1,20.5 L1,20.5 L17.5,-8 L17.5,-10.5 L-17.5,-10.5 L-17.5,-8 Z"/>
<path transform="translate(415.8,368)" fill="#ff00ff" d="M-20.5,-1 L-20.5,1 L8,17 L10.5,17 L10.5,-17 L8,-17 Z"/>
<path transform="translate(415.6,434.4)" fill="#808000" d="M20.5,-1 L20.5,1 L-8,16.5 L-10.5,16.5 L-10.5,-16.5 L-8,-16.5 Z"/>
</g>
<g id="legendtext" class="t" font-size="48.5">
<text x="491.2" y="119.5">(A)</text>
<text x="491.2" y="185.9">(B)</text>
<text x="491.2" y="252.4">(C)</text>
<text x="491.2" y="318.9">(D)</text>
<text x="491.2" y="385.3">(E)</text>
<text x="491.2" y="451.8">(F)</text>
</g>
<g id="xticklabels" class="t" font-size="43.5" text-anchor="middle">
<text x="289.2" y="1230">1.0</text>
<text x="427.8" y="1230">1.5</text>
<text x="566.4" y="1230">2.0</text>
<text x="705.0" y="1230">2.5</text>
<text x="843.6" y="1230">3.0</text>
<text x="982.2" y="1230">3.5</text>
<text x="1120.8" y="1230">4.0</text>
<text x="1259.3" y="1230">4.5</text>
<text x="1397.9" y="1230">5.0</text>
<text x="1536.5" y="1230">5.5</text>
<text x="1675.1" y="1230">6.0</text>
<text x="1813.7" y="1230">6.5</text>
</g>
<g id="yticklabels" class="t" font-size="43.5" text-anchor="end">
<text x="264" y="1181.8">0.0</text>
<text x="264.5" y="731.2">2.0x10<tspan font-size="28" dy="-24.4">8</tspan></text>
<text x="264.5" y="277.2">4.0x10<tspan font-size="28" dy="-24.4">8</tspan></text>
</g>
<g id="trim" fill="#fff">
<rect x="260.5" y="1224.5" width="8.5" height="6.1"/><rect x="275" y="1224.5" width="7.5" height="6.1"/>
<rect x="399.5" y="1224.5" width="7.5" height="6.1"/><rect x="414" y="1224.5" width="7.5" height="6.1"/>
<rect x="202.5" y="271.5" width="7.5" height="6.1"/><rect x="217" y="271.5" width="7.5" height="6.1"/>
<rect x="202.5" y="725.5" width="7.5" height="6.1"/><rect x="217" y="725.5" width="7.5" height="6.1"/>
</g>
<text id="xtitle" class="s" font-size="62"><tspan x="975.8" y="1291.0" font-weight="bold" font-style="italic" font-size="59.2" textLength="33.96" lengthAdjust="spacingAndGlyphs">h</tspan><tspan x="1016.1" y="1291.6" font-weight="bold" font-style="italic" font-size="64.5" textLength="28.63" lengthAdjust="spacingAndGlyphs">ν</tspan><tspan> </tspan><tspan x="1069.9" y="1291.5" font-weight="bold" font-style="normal">e</tspan><tspan x="1093.3" y="1291.0" font-weight="bold" font-style="normal" textLength="44.33" lengthAdjust="spacingAndGlyphs">V</tspan><tspan x="1135.8" y="1291.2" font-weight="normal" font-style="normal" textLength="21.90" lengthAdjust="spacingAndGlyphs">)</tspan></text>
<text id="ytitle" class="s" font-size="62" transform="translate(97.8,830) rotate(-90)"><tspan x="1.0" y="0.0" font-weight="normal" font-style="normal" textLength="21.90" lengthAdjust="spacingAndGlyphs">(</tspan><tspan x="23.0" y="0.0" font-weight="bold" font-style="italic" font-size="64.5" textLength="32.59" lengthAdjust="spacingAndGlyphs">α</tspan><tspan x="57.5" y="0.0" font-weight="bold" font-style="italic" font-size="61.4" textLength="33.20" lengthAdjust="spacingAndGlyphs">h</tspan><tspan x="96.0" y="0.0" font-weight="bold" font-style="italic" font-size="64.5" textLength="28.85" lengthAdjust="spacingAndGlyphs">ν</tspan><tspan x="130.0" y="-30.0" font-weight="bold" font-style="normal" textLength="32.24" lengthAdjust="spacingAndGlyphs">2</tspan><tspan x="171.5" y="-0.8" font-weight="normal" font-style="normal" font-size="60.8" textLength="36.33" lengthAdjust="spacingAndGlyphs" stroke="#000" stroke-width="1.3">η</tspan><tspan x="193.0" y="0.0" font-weight="bold" font-style="normal">e</tspan><tspan x="215.8" y="0.0" font-weight="bold" font-style="normal" textLength="45.41" lengthAdjust="spacingAndGlyphs">V</tspan><tspan x="262.3" y="0.0" font-weight="bold" font-style="normal">/</tspan><tspan x="276.7" y="0.0" font-weight="bold" font-style="normal" font-size="63.2" textLength="27.53" lengthAdjust="spacingAndGlyphs">c</tspan><tspan x="304.1" y="0.0" font-weight="bold" font-style="normal" font-size="63.2" textLength="46.49" lengthAdjust="spacingAndGlyphs">m</tspan><tspan x="350.9" y="-31.0" font-weight="bold" font-style="normal" textLength="32.24" lengthAdjust="spacingAndGlyphs">2</tspan><tspan x="383.0" y="0.0" font-weight="normal" font-style="normal" textLength="21.90" lengthAdjust="spacingAndGlyphs">)</tspan></text>
</svg></body></html>
